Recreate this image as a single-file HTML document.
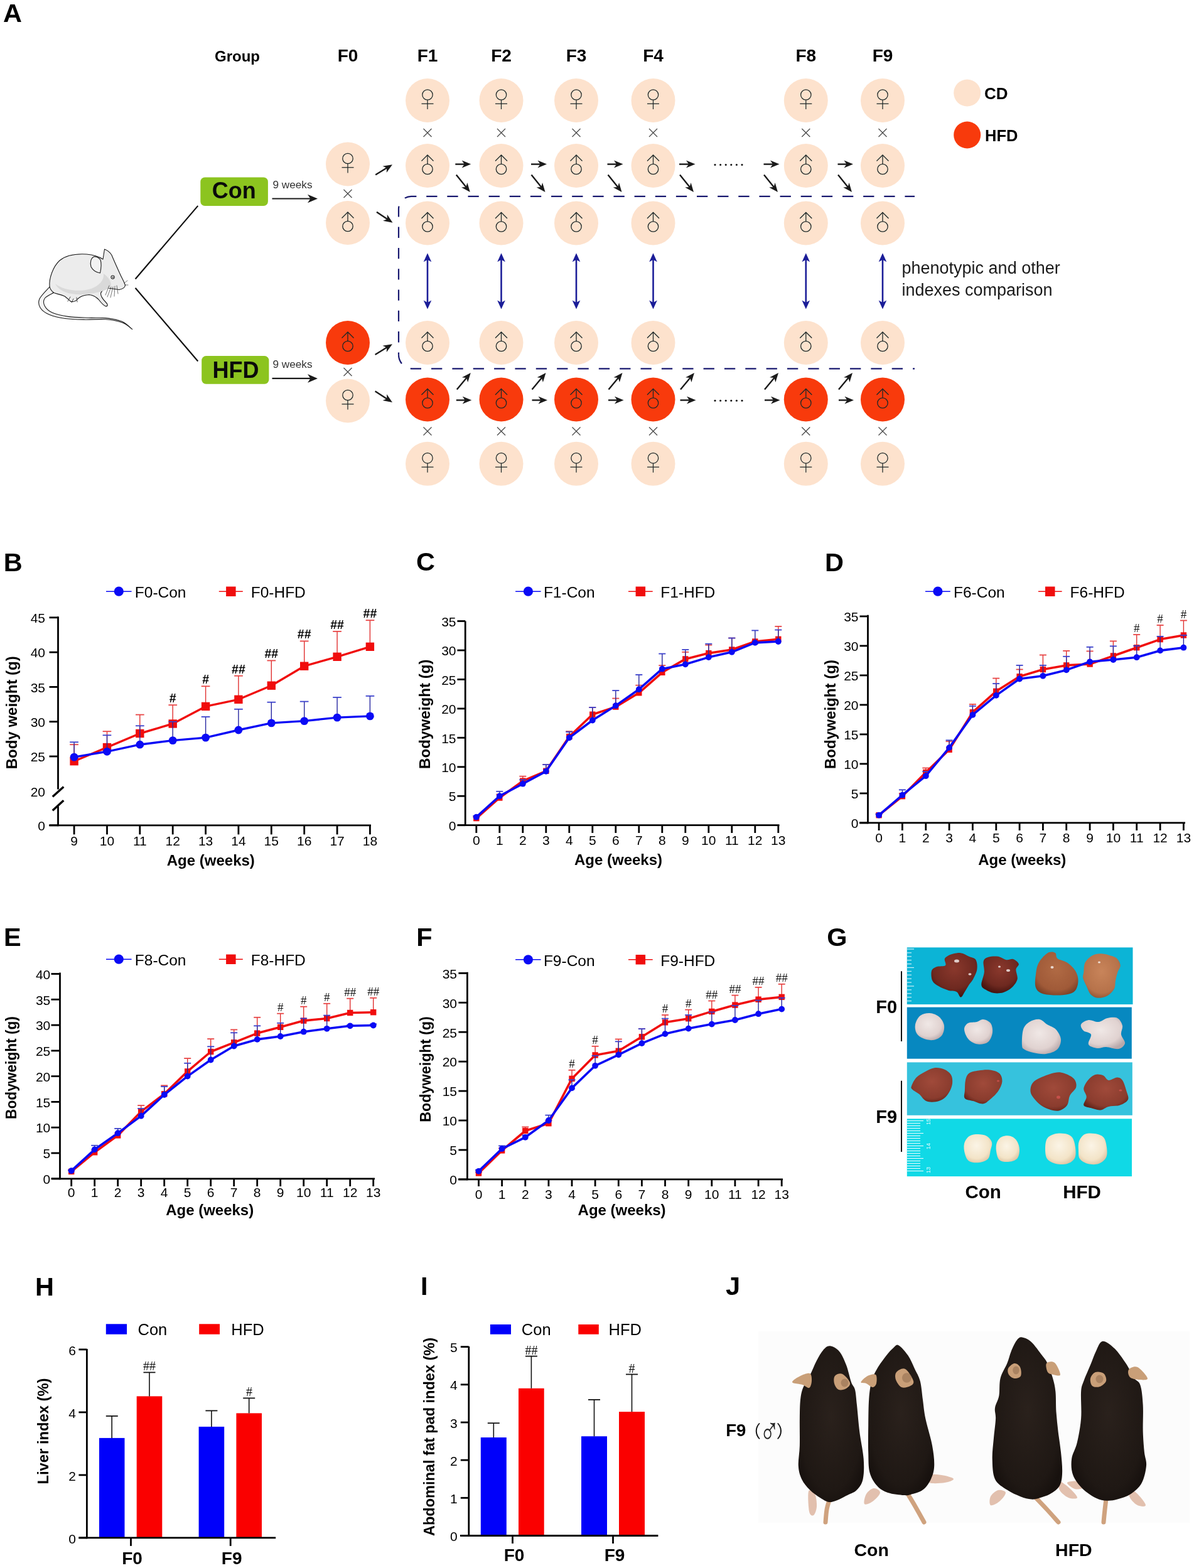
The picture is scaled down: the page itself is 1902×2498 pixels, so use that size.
<!DOCTYPE html>
<html><head><meta charset="utf-8"><title>Figure</title>
<style>
html,body{margin:0;padding:0;background:#fff;}
body{width:1902px;height:2498px;overflow:hidden;position:relative;}
svg{position:absolute;left:0;top:0;display:block;}
</style></head><body>
<svg width="1902" height="2498" viewBox="0 0 1902 2498">
<rect x="0" y="0" width="1902" height="2498" fill="#fff"/>
<text x="4.9" y="35.0" font-size="41.5" font-weight="bold" text-anchor="start" fill="#000" font-family="'Liberation Sans', Arial, sans-serif" >A</text>
<text x="342.0" y="98.0" font-size="24" font-weight="bold" text-anchor="start" fill="#000" font-family="'Liberation Sans', Arial, sans-serif" >Group</text>
<text x="554.0" y="98.0" font-size="28" font-weight="bold" text-anchor="middle" fill="#000" font-family="'Liberation Sans', Arial, sans-serif" >F0</text>
<text x="681.0" y="98.0" font-size="28" font-weight="bold" text-anchor="middle" fill="#000" font-family="'Liberation Sans', Arial, sans-serif" >F1</text>
<text x="798.5" y="98.0" font-size="28" font-weight="bold" text-anchor="middle" fill="#000" font-family="'Liberation Sans', Arial, sans-serif" >F2</text>
<text x="918.0" y="98.0" font-size="28" font-weight="bold" text-anchor="middle" fill="#000" font-family="'Liberation Sans', Arial, sans-serif" >F3</text>
<text x="1040.5" y="98.0" font-size="28" font-weight="bold" text-anchor="middle" fill="#000" font-family="'Liberation Sans', Arial, sans-serif" >F4</text>
<text x="1283.8" y="98.0" font-size="28" font-weight="bold" text-anchor="middle" fill="#000" font-family="'Liberation Sans', Arial, sans-serif" >F8</text>
<text x="1406.0" y="98.0" font-size="28" font-weight="bold" text-anchor="middle" fill="#000" font-family="'Liberation Sans', Arial, sans-serif" >F9</text>
<circle cx="681.0" cy="160.0" r="35" fill="#fde2cd"/>
<g fill="none" stroke="#1c2828" stroke-width="1.25"><circle cx="681.0" cy="151.0" r="8.2"/><line x1="681.0" y1="159.2" x2="681.0" y2="174.0"/><line x1="671.5" y1="165.3" x2="690.5" y2="165.3"/></g>
<g stroke="#4a4a4a" stroke-width="1.3"><line x1="674.5" y1="205.0" x2="687.5" y2="218.0"/><line x1="674.5" y1="218.0" x2="687.5" y2="205.0"/></g>
<circle cx="681.0" cy="264.0" r="35" fill="#fde2cd"/>
<g fill="none" stroke="#1c2828" stroke-width="1.3"><circle cx="681.0" cy="269.5" r="8.2"/><line x1="681.0" y1="261.3" x2="681.0" y2="247.0"/><polyline points="671.5,256.5 681.0,247.0 690.5,256.5"/></g>
<circle cx="681.0" cy="355.5" r="35" fill="#fde2cd"/>
<g fill="none" stroke="#1c2828" stroke-width="1.3"><circle cx="681.0" cy="361.0" r="8.2"/><line x1="681.0" y1="352.8" x2="681.0" y2="338.5"/><polyline points="671.5,348.0 681.0,338.5 690.5,348.0"/></g>
<circle cx="681.0" cy="546.0" r="35" fill="#fde2cd"/>
<g fill="none" stroke="#1c2828" stroke-width="1.3"><circle cx="681.0" cy="551.5" r="8.2"/><line x1="681.0" y1="543.3" x2="681.0" y2="529.0"/><polyline points="671.5,538.5 681.0,529.0 690.5,538.5"/></g>
<circle cx="681.0" cy="636.5" r="35" fill="#f83a0c"/>
<g fill="none" stroke="#1c2828" stroke-width="1.3"><circle cx="681.0" cy="642.0" r="8.2"/><line x1="681.0" y1="633.8" x2="681.0" y2="619.5"/><polyline points="671.5,629.0 681.0,619.5 690.5,629.0"/></g>
<g stroke="#4a4a4a" stroke-width="1.3"><line x1="674.5" y1="680.5" x2="687.5" y2="693.5"/><line x1="674.5" y1="693.5" x2="687.5" y2="680.5"/></g>
<circle cx="681.0" cy="738.8" r="35" fill="#fde2cd"/>
<g fill="none" stroke="#1c2828" stroke-width="1.25"><circle cx="681.0" cy="729.8" r="8.2"/><line x1="681.0" y1="738.0" x2="681.0" y2="752.8"/><line x1="671.5" y1="744.1" x2="690.5" y2="744.1"/></g>
<circle cx="798.5" cy="160.0" r="35" fill="#fde2cd"/>
<g fill="none" stroke="#1c2828" stroke-width="1.25"><circle cx="798.5" cy="151.0" r="8.2"/><line x1="798.5" y1="159.2" x2="798.5" y2="174.0"/><line x1="789.0" y1="165.3" x2="808.0" y2="165.3"/></g>
<g stroke="#4a4a4a" stroke-width="1.3"><line x1="792.0" y1="205.0" x2="805.0" y2="218.0"/><line x1="792.0" y1="218.0" x2="805.0" y2="205.0"/></g>
<circle cx="798.5" cy="264.0" r="35" fill="#fde2cd"/>
<g fill="none" stroke="#1c2828" stroke-width="1.3"><circle cx="798.5" cy="269.5" r="8.2"/><line x1="798.5" y1="261.3" x2="798.5" y2="247.0"/><polyline points="789.0,256.5 798.5,247.0 808.0,256.5"/></g>
<circle cx="798.5" cy="355.5" r="35" fill="#fde2cd"/>
<g fill="none" stroke="#1c2828" stroke-width="1.3"><circle cx="798.5" cy="361.0" r="8.2"/><line x1="798.5" y1="352.8" x2="798.5" y2="338.5"/><polyline points="789.0,348.0 798.5,338.5 808.0,348.0"/></g>
<circle cx="798.5" cy="546.0" r="35" fill="#fde2cd"/>
<g fill="none" stroke="#1c2828" stroke-width="1.3"><circle cx="798.5" cy="551.5" r="8.2"/><line x1="798.5" y1="543.3" x2="798.5" y2="529.0"/><polyline points="789.0,538.5 798.5,529.0 808.0,538.5"/></g>
<circle cx="798.5" cy="636.5" r="35" fill="#f83a0c"/>
<g fill="none" stroke="#1c2828" stroke-width="1.3"><circle cx="798.5" cy="642.0" r="8.2"/><line x1="798.5" y1="633.8" x2="798.5" y2="619.5"/><polyline points="789.0,629.0 798.5,619.5 808.0,629.0"/></g>
<g stroke="#4a4a4a" stroke-width="1.3"><line x1="792.0" y1="680.5" x2="805.0" y2="693.5"/><line x1="792.0" y1="693.5" x2="805.0" y2="680.5"/></g>
<circle cx="798.5" cy="738.8" r="35" fill="#fde2cd"/>
<g fill="none" stroke="#1c2828" stroke-width="1.25"><circle cx="798.5" cy="729.8" r="8.2"/><line x1="798.5" y1="738.0" x2="798.5" y2="752.8"/><line x1="789.0" y1="744.1" x2="808.0" y2="744.1"/></g>
<circle cx="918.0" cy="160.0" r="35" fill="#fde2cd"/>
<g fill="none" stroke="#1c2828" stroke-width="1.25"><circle cx="918.0" cy="151.0" r="8.2"/><line x1="918.0" y1="159.2" x2="918.0" y2="174.0"/><line x1="908.5" y1="165.3" x2="927.5" y2="165.3"/></g>
<g stroke="#4a4a4a" stroke-width="1.3"><line x1="911.5" y1="205.0" x2="924.5" y2="218.0"/><line x1="911.5" y1="218.0" x2="924.5" y2="205.0"/></g>
<circle cx="918.0" cy="264.0" r="35" fill="#fde2cd"/>
<g fill="none" stroke="#1c2828" stroke-width="1.3"><circle cx="918.0" cy="269.5" r="8.2"/><line x1="918.0" y1="261.3" x2="918.0" y2="247.0"/><polyline points="908.5,256.5 918.0,247.0 927.5,256.5"/></g>
<circle cx="918.0" cy="355.5" r="35" fill="#fde2cd"/>
<g fill="none" stroke="#1c2828" stroke-width="1.3"><circle cx="918.0" cy="361.0" r="8.2"/><line x1="918.0" y1="352.8" x2="918.0" y2="338.5"/><polyline points="908.5,348.0 918.0,338.5 927.5,348.0"/></g>
<circle cx="918.0" cy="546.0" r="35" fill="#fde2cd"/>
<g fill="none" stroke="#1c2828" stroke-width="1.3"><circle cx="918.0" cy="551.5" r="8.2"/><line x1="918.0" y1="543.3" x2="918.0" y2="529.0"/><polyline points="908.5,538.5 918.0,529.0 927.5,538.5"/></g>
<circle cx="918.0" cy="636.5" r="35" fill="#f83a0c"/>
<g fill="none" stroke="#1c2828" stroke-width="1.3"><circle cx="918.0" cy="642.0" r="8.2"/><line x1="918.0" y1="633.8" x2="918.0" y2="619.5"/><polyline points="908.5,629.0 918.0,619.5 927.5,629.0"/></g>
<g stroke="#4a4a4a" stroke-width="1.3"><line x1="911.5" y1="680.5" x2="924.5" y2="693.5"/><line x1="911.5" y1="693.5" x2="924.5" y2="680.5"/></g>
<circle cx="918.0" cy="738.8" r="35" fill="#fde2cd"/>
<g fill="none" stroke="#1c2828" stroke-width="1.25"><circle cx="918.0" cy="729.8" r="8.2"/><line x1="918.0" y1="738.0" x2="918.0" y2="752.8"/><line x1="908.5" y1="744.1" x2="927.5" y2="744.1"/></g>
<circle cx="1040.5" cy="160.0" r="35" fill="#fde2cd"/>
<g fill="none" stroke="#1c2828" stroke-width="1.25"><circle cx="1040.5" cy="151.0" r="8.2"/><line x1="1040.5" y1="159.2" x2="1040.5" y2="174.0"/><line x1="1031.0" y1="165.3" x2="1050.0" y2="165.3"/></g>
<g stroke="#4a4a4a" stroke-width="1.3"><line x1="1034.0" y1="205.0" x2="1047.0" y2="218.0"/><line x1="1034.0" y1="218.0" x2="1047.0" y2="205.0"/></g>
<circle cx="1040.5" cy="264.0" r="35" fill="#fde2cd"/>
<g fill="none" stroke="#1c2828" stroke-width="1.3"><circle cx="1040.5" cy="269.5" r="8.2"/><line x1="1040.5" y1="261.3" x2="1040.5" y2="247.0"/><polyline points="1031.0,256.5 1040.5,247.0 1050.0,256.5"/></g>
<circle cx="1040.5" cy="355.5" r="35" fill="#fde2cd"/>
<g fill="none" stroke="#1c2828" stroke-width="1.3"><circle cx="1040.5" cy="361.0" r="8.2"/><line x1="1040.5" y1="352.8" x2="1040.5" y2="338.5"/><polyline points="1031.0,348.0 1040.5,338.5 1050.0,348.0"/></g>
<circle cx="1040.5" cy="546.0" r="35" fill="#fde2cd"/>
<g fill="none" stroke="#1c2828" stroke-width="1.3"><circle cx="1040.5" cy="551.5" r="8.2"/><line x1="1040.5" y1="543.3" x2="1040.5" y2="529.0"/><polyline points="1031.0,538.5 1040.5,529.0 1050.0,538.5"/></g>
<circle cx="1040.5" cy="636.5" r="35" fill="#f83a0c"/>
<g fill="none" stroke="#1c2828" stroke-width="1.3"><circle cx="1040.5" cy="642.0" r="8.2"/><line x1="1040.5" y1="633.8" x2="1040.5" y2="619.5"/><polyline points="1031.0,629.0 1040.5,619.5 1050.0,629.0"/></g>
<g stroke="#4a4a4a" stroke-width="1.3"><line x1="1034.0" y1="680.5" x2="1047.0" y2="693.5"/><line x1="1034.0" y1="693.5" x2="1047.0" y2="680.5"/></g>
<circle cx="1040.5" cy="738.8" r="35" fill="#fde2cd"/>
<g fill="none" stroke="#1c2828" stroke-width="1.25"><circle cx="1040.5" cy="729.8" r="8.2"/><line x1="1040.5" y1="738.0" x2="1040.5" y2="752.8"/><line x1="1031.0" y1="744.1" x2="1050.0" y2="744.1"/></g>
<circle cx="1283.8" cy="160.0" r="35" fill="#fde2cd"/>
<g fill="none" stroke="#1c2828" stroke-width="1.25"><circle cx="1283.8" cy="151.0" r="8.2"/><line x1="1283.8" y1="159.2" x2="1283.8" y2="174.0"/><line x1="1274.3" y1="165.3" x2="1293.3" y2="165.3"/></g>
<g stroke="#4a4a4a" stroke-width="1.3"><line x1="1277.3" y1="205.0" x2="1290.3" y2="218.0"/><line x1="1277.3" y1="218.0" x2="1290.3" y2="205.0"/></g>
<circle cx="1283.8" cy="264.0" r="35" fill="#fde2cd"/>
<g fill="none" stroke="#1c2828" stroke-width="1.3"><circle cx="1283.8" cy="269.5" r="8.2"/><line x1="1283.8" y1="261.3" x2="1283.8" y2="247.0"/><polyline points="1274.3,256.5 1283.8,247.0 1293.3,256.5"/></g>
<circle cx="1283.8" cy="355.5" r="35" fill="#fde2cd"/>
<g fill="none" stroke="#1c2828" stroke-width="1.3"><circle cx="1283.8" cy="361.0" r="8.2"/><line x1="1283.8" y1="352.8" x2="1283.8" y2="338.5"/><polyline points="1274.3,348.0 1283.8,338.5 1293.3,348.0"/></g>
<circle cx="1283.8" cy="546.0" r="35" fill="#fde2cd"/>
<g fill="none" stroke="#1c2828" stroke-width="1.3"><circle cx="1283.8" cy="551.5" r="8.2"/><line x1="1283.8" y1="543.3" x2="1283.8" y2="529.0"/><polyline points="1274.3,538.5 1283.8,529.0 1293.3,538.5"/></g>
<circle cx="1283.8" cy="636.5" r="35" fill="#f83a0c"/>
<g fill="none" stroke="#1c2828" stroke-width="1.3"><circle cx="1283.8" cy="642.0" r="8.2"/><line x1="1283.8" y1="633.8" x2="1283.8" y2="619.5"/><polyline points="1274.3,629.0 1283.8,619.5 1293.3,629.0"/></g>
<g stroke="#4a4a4a" stroke-width="1.3"><line x1="1277.3" y1="680.5" x2="1290.3" y2="693.5"/><line x1="1277.3" y1="693.5" x2="1290.3" y2="680.5"/></g>
<circle cx="1283.8" cy="738.8" r="35" fill="#fde2cd"/>
<g fill="none" stroke="#1c2828" stroke-width="1.25"><circle cx="1283.8" cy="729.8" r="8.2"/><line x1="1283.8" y1="738.0" x2="1283.8" y2="752.8"/><line x1="1274.3" y1="744.1" x2="1293.3" y2="744.1"/></g>
<circle cx="1406.0" cy="160.0" r="35" fill="#fde2cd"/>
<g fill="none" stroke="#1c2828" stroke-width="1.25"><circle cx="1406.0" cy="151.0" r="8.2"/><line x1="1406.0" y1="159.2" x2="1406.0" y2="174.0"/><line x1="1396.5" y1="165.3" x2="1415.5" y2="165.3"/></g>
<g stroke="#4a4a4a" stroke-width="1.3"><line x1="1399.5" y1="205.0" x2="1412.5" y2="218.0"/><line x1="1399.5" y1="218.0" x2="1412.5" y2="205.0"/></g>
<circle cx="1406.0" cy="264.0" r="35" fill="#fde2cd"/>
<g fill="none" stroke="#1c2828" stroke-width="1.3"><circle cx="1406.0" cy="269.5" r="8.2"/><line x1="1406.0" y1="261.3" x2="1406.0" y2="247.0"/><polyline points="1396.5,256.5 1406.0,247.0 1415.5,256.5"/></g>
<circle cx="1406.0" cy="355.5" r="35" fill="#fde2cd"/>
<g fill="none" stroke="#1c2828" stroke-width="1.3"><circle cx="1406.0" cy="361.0" r="8.2"/><line x1="1406.0" y1="352.8" x2="1406.0" y2="338.5"/><polyline points="1396.5,348.0 1406.0,338.5 1415.5,348.0"/></g>
<circle cx="1406.0" cy="546.0" r="35" fill="#fde2cd"/>
<g fill="none" stroke="#1c2828" stroke-width="1.3"><circle cx="1406.0" cy="551.5" r="8.2"/><line x1="1406.0" y1="543.3" x2="1406.0" y2="529.0"/><polyline points="1396.5,538.5 1406.0,529.0 1415.5,538.5"/></g>
<circle cx="1406.0" cy="636.5" r="35" fill="#f83a0c"/>
<g fill="none" stroke="#1c2828" stroke-width="1.3"><circle cx="1406.0" cy="642.0" r="8.2"/><line x1="1406.0" y1="633.8" x2="1406.0" y2="619.5"/><polyline points="1396.5,629.0 1406.0,619.5 1415.5,629.0"/></g>
<g stroke="#4a4a4a" stroke-width="1.3"><line x1="1399.5" y1="680.5" x2="1412.5" y2="693.5"/><line x1="1399.5" y1="693.5" x2="1412.5" y2="680.5"/></g>
<circle cx="1406.0" cy="738.8" r="35" fill="#fde2cd"/>
<g fill="none" stroke="#1c2828" stroke-width="1.25"><circle cx="1406.0" cy="729.8" r="8.2"/><line x1="1406.0" y1="738.0" x2="1406.0" y2="752.8"/><line x1="1396.5" y1="744.1" x2="1415.5" y2="744.1"/></g>
<circle cx="554.0" cy="261.5" r="35" fill="#fde2cd"/>
<g fill="none" stroke="#1c2828" stroke-width="1.25"><circle cx="554.0" cy="252.5" r="8.2"/><line x1="554.0" y1="260.7" x2="554.0" y2="275.5"/><line x1="544.5" y1="266.8" x2="563.5" y2="266.8"/></g>
<g stroke="#4a4a4a" stroke-width="1.3"><line x1="547.5" y1="302.0" x2="560.5" y2="315.0"/><line x1="547.5" y1="315.0" x2="560.5" y2="302.0"/></g>
<circle cx="554.0" cy="355.0" r="35" fill="#fde2cd"/>
<g fill="none" stroke="#1c2828" stroke-width="1.3"><circle cx="554.0" cy="360.5" r="8.2"/><line x1="554.0" y1="352.3" x2="554.0" y2="338.0"/><polyline points="544.5,347.5 554.0,338.0 563.5,347.5"/></g>
<circle cx="554.0" cy="546.0" r="35" fill="#f83a0c"/>
<g fill="none" stroke="#1c2828" stroke-width="1.3"><circle cx="554.0" cy="551.5" r="8.2"/><line x1="554.0" y1="543.3" x2="554.0" y2="529.0"/><polyline points="544.5,538.5 554.0,529.0 563.5,538.5"/></g>
<g stroke="#4a4a4a" stroke-width="1.3"><line x1="547.5" y1="586.0" x2="560.5" y2="599.0"/><line x1="547.5" y1="599.0" x2="560.5" y2="586.0"/></g>
<circle cx="554.0" cy="638.5" r="35" fill="#fde2cd"/>
<g fill="none" stroke="#1c2828" stroke-width="1.25"><circle cx="554.0" cy="629.5" r="8.2"/><line x1="554.0" y1="637.7" x2="554.0" y2="652.5"/><line x1="544.5" y1="643.8" x2="563.5" y2="643.8"/></g>
<circle cx="1540.7" cy="148.0" r="21.5" fill="#fde2cd"/>
<circle cx="1540.7" cy="215.0" r="21.5" fill="#f83a0c"/>
<text x="1568.0" y="157.7" font-size="26" font-weight="bold" text-anchor="start" fill="#000" font-family="'Liberation Sans', Arial, sans-serif" >CD</text>
<text x="1569.0" y="224.5" font-size="25.5" font-weight="bold" text-anchor="start" fill="#000" font-family="'Liberation Sans', Arial, sans-serif" >HFD</text>
<path d="M1457,312.9 H655" fill="none" stroke="#18186f" stroke-width="2.2" stroke-dasharray="17.3 15.84" stroke-dashoffset="1.72"/>
<path d="M655,312.9 A20,20 0 0 0 635,332.9 V565.3" fill="none" stroke="#18186f" stroke-width="2.2" stroke-dasharray="17.3 16" stroke-dashoffset="6.68"/>
<path d="M635,565.3 A22,22 0 0 0 657,587.3 H1457" fill="none" stroke="#18186f" stroke-width="2.2" stroke-dasharray="17.3 16.05" stroke-dashoffset="2.34"/>
<line x1="681" y1="413.1" x2="681" y2="482.7" stroke="#1b1d98" stroke-width="2.6"/>
<polygon points="681,403.3 674.7,417.3 681,413.8 687.3,417.3" fill="#1b1d98"/>
<polygon points="681,492.5 674.7,478.5 681,482.0 687.3,478.5" fill="#1b1d98"/>
<line x1="798.5" y1="413.1" x2="798.5" y2="482.7" stroke="#1b1d98" stroke-width="2.6"/>
<polygon points="798.5,403.3 792.2,417.3 798.5,413.8 804.8,417.3" fill="#1b1d98"/>
<polygon points="798.5,492.5 792.2,478.5 798.5,482.0 804.8,478.5" fill="#1b1d98"/>
<line x1="918" y1="413.1" x2="918" y2="482.7" stroke="#1b1d98" stroke-width="2.6"/>
<polygon points="918,403.3 911.7,417.3 918,413.8 924.3,417.3" fill="#1b1d98"/>
<polygon points="918,492.5 911.7,478.5 918,482.0 924.3,478.5" fill="#1b1d98"/>
<line x1="1040.5" y1="413.1" x2="1040.5" y2="482.7" stroke="#1b1d98" stroke-width="2.6"/>
<polygon points="1040.5,403.3 1034.2,417.3 1040.5,413.8 1046.8,417.3" fill="#1b1d98"/>
<polygon points="1040.5,492.5 1034.2,478.5 1040.5,482.0 1046.8,478.5" fill="#1b1d98"/>
<line x1="1283.8" y1="413.1" x2="1283.8" y2="482.7" stroke="#1b1d98" stroke-width="2.6"/>
<polygon points="1283.8,403.3 1277.5,417.3 1283.8,413.8 1290.1,417.3" fill="#1b1d98"/>
<polygon points="1283.8,492.5 1277.5,478.5 1283.8,482.0 1290.1,478.5" fill="#1b1d98"/>
<line x1="1406" y1="413.1" x2="1406" y2="482.7" stroke="#1b1d98" stroke-width="2.6"/>
<polygon points="1406,403.3 1399.7,417.3 1406,413.8 1412.3,417.3" fill="#1b1d98"/>
<polygon points="1406,492.5 1399.7,478.5 1406,482.0 1412.3,478.5" fill="#1b1d98"/>
<line x1="598.2" y1="278.6" x2="616.9" y2="267.1" stroke="#1a1a1a" stroke-width="2.4"/>
<polygon points="625.0,262.2 615.8,274.9 616.1,267.6 609.5,264.7" fill="#1a1a1a"/>
<line x1="600.0" y1="337.8" x2="617.6" y2="349.6" stroke="#1a1a1a" stroke-width="2.4"/>
<polygon points="625.5,354.8 610.1,351.7 616.8,349.0 616.8,341.8" fill="#1a1a1a"/>
<line x1="597.6" y1="565.0" x2="617.0" y2="553.1" stroke="#1a1a1a" stroke-width="2.4"/>
<polygon points="625.0,548.2 615.8,560.9 616.1,553.7 609.5,550.7" fill="#1a1a1a"/>
<line x1="597.6" y1="623.2" x2="617.1" y2="635.9" stroke="#1a1a1a" stroke-width="2.4"/>
<polygon points="625.0,641.0 609.6,638.1 616.2,635.3 616.1,628.1" fill="#1a1a1a"/>
<line x1="725.3" y1="261.6" x2="740.8" y2="261.6" stroke="#1a1a1a" stroke-width="2.4"/>
<polygon points="750.2,261.6 735.7,267.6 739.8,261.6 735.7,255.6" fill="#1a1a1a"/>
<line x1="726.8" y1="637.5" x2="741.8" y2="637.5" stroke="#1a1a1a" stroke-width="2.4"/>
<polygon points="751.2,637.5 736.7,643.5 740.8,637.5 736.7,631.5" fill="#1a1a1a"/>
<line x1="846.0" y1="261.6" x2="861.6" y2="261.6" stroke="#1a1a1a" stroke-width="2.4"/>
<polygon points="871.0,261.6 856.5,267.6 860.6,261.6 856.5,255.6" fill="#1a1a1a"/>
<line x1="847.5" y1="637.5" x2="862.6" y2="637.5" stroke="#1a1a1a" stroke-width="2.4"/>
<polygon points="872.0,637.5 857.5,643.5 861.6,637.5 857.5,631.5" fill="#1a1a1a"/>
<line x1="967.5" y1="261.6" x2="983.1" y2="261.6" stroke="#1a1a1a" stroke-width="2.4"/>
<polygon points="992.5,261.6 978.0,267.6 982.1,261.6 978.0,255.6" fill="#1a1a1a"/>
<line x1="969.0" y1="637.5" x2="984.1" y2="637.5" stroke="#1a1a1a" stroke-width="2.4"/>
<polygon points="993.5,637.5 979.0,643.5 983.1,637.5 979.0,631.5" fill="#1a1a1a"/>
<line x1="1082.0" y1="261.6" x2="1098.1" y2="261.6" stroke="#1a1a1a" stroke-width="2.4"/>
<polygon points="1107.5,261.6 1093.0,267.6 1097.1,261.6 1093.0,255.6" fill="#1a1a1a"/>
<line x1="1083.5" y1="637.5" x2="1099.1" y2="637.5" stroke="#1a1a1a" stroke-width="2.4"/>
<polygon points="1108.5,637.5 1094.0,643.5 1098.1,637.5 1094.0,631.5" fill="#1a1a1a"/>
<line x1="1216.5" y1="261.6" x2="1232.1" y2="261.6" stroke="#1a1a1a" stroke-width="2.4"/>
<polygon points="1241.5,261.6 1227.0,267.6 1231.1,261.6 1227.0,255.6" fill="#1a1a1a"/>
<line x1="1218.0" y1="637.5" x2="1233.1" y2="637.5" stroke="#1a1a1a" stroke-width="2.4"/>
<polygon points="1242.5,637.5 1228.0,643.5 1232.1,637.5 1228.0,631.5" fill="#1a1a1a"/>
<line x1="1334.5" y1="261.6" x2="1349.6" y2="261.6" stroke="#1a1a1a" stroke-width="2.4"/>
<polygon points="1359.0,261.6 1344.5,267.6 1348.6,261.6 1344.5,255.6" fill="#1a1a1a"/>
<line x1="1336.0" y1="637.5" x2="1350.6" y2="637.5" stroke="#1a1a1a" stroke-width="2.4"/>
<polygon points="1360.0,637.5 1345.5,643.5 1349.6,637.5 1345.5,631.5" fill="#1a1a1a"/>
<line x1="726.8" y1="278.6" x2="742.9" y2="298.6" stroke="#1a1a1a" stroke-width="2.4"/>
<polygon points="748.8,306.0 735.0,298.5 742.3,297.9 744.4,290.9" fill="#1a1a1a"/>
<line x1="727.8" y1="620.6" x2="743.8" y2="601.3" stroke="#1a1a1a" stroke-width="2.4"/>
<polygon points="749.8,594.0 745.2,609.0 743.1,602.0 735.9,601.3" fill="#1a1a1a"/>
<line x1="846.5" y1="278.6" x2="862.6" y2="298.6" stroke="#1a1a1a" stroke-width="2.4"/>
<polygon points="868.5,306.0 854.7,298.5 862.0,297.9 864.1,290.9" fill="#1a1a1a"/>
<line x1="847.5" y1="620.6" x2="863.5" y2="601.3" stroke="#1a1a1a" stroke-width="2.4"/>
<polygon points="869.5,594.0 864.9,609.0 862.8,602.0 855.6,601.3" fill="#1a1a1a"/>
<line x1="968.5" y1="278.6" x2="984.6" y2="298.6" stroke="#1a1a1a" stroke-width="2.4"/>
<polygon points="990.5,306.0 976.7,298.5 984.0,297.9 986.1,290.9" fill="#1a1a1a"/>
<line x1="969.5" y1="620.6" x2="985.5" y2="601.3" stroke="#1a1a1a" stroke-width="2.4"/>
<polygon points="991.5,594.0 986.9,609.0 984.8,602.0 977.6,601.3" fill="#1a1a1a"/>
<line x1="1083.0" y1="278.6" x2="1099.1" y2="298.6" stroke="#1a1a1a" stroke-width="2.4"/>
<polygon points="1105.0,306.0 1091.2,298.5 1098.5,297.9 1100.6,290.9" fill="#1a1a1a"/>
<line x1="1084.0" y1="620.6" x2="1100.0" y2="601.3" stroke="#1a1a1a" stroke-width="2.4"/>
<polygon points="1106.0,594.0 1101.4,609.0 1099.3,602.0 1092.1,601.3" fill="#1a1a1a"/>
<line x1="1217.0" y1="278.6" x2="1233.1" y2="298.6" stroke="#1a1a1a" stroke-width="2.4"/>
<polygon points="1239.0,306.0 1225.2,298.5 1232.5,297.9 1234.6,290.9" fill="#1a1a1a"/>
<line x1="1218.0" y1="620.6" x2="1234.0" y2="601.3" stroke="#1a1a1a" stroke-width="2.4"/>
<polygon points="1240.0,594.0 1235.4,609.0 1233.3,602.0 1226.1,601.3" fill="#1a1a1a"/>
<line x1="1335.0" y1="278.6" x2="1351.1" y2="298.6" stroke="#1a1a1a" stroke-width="2.4"/>
<polygon points="1357.0,306.0 1343.2,298.5 1350.5,297.9 1352.6,290.9" fill="#1a1a1a"/>
<line x1="1336.0" y1="620.6" x2="1352.0" y2="601.3" stroke="#1a1a1a" stroke-width="2.4"/>
<polygon points="1358.0,594.0 1353.4,609.0 1351.3,602.0 1344.1,601.3" fill="#1a1a1a"/>
<circle cx="1139.0" cy="262.5" r="1.5" fill="#111"/>
<circle cx="1147.6" cy="262.5" r="1.5" fill="#111"/>
<circle cx="1156.2" cy="262.5" r="1.5" fill="#111"/>
<circle cx="1164.8" cy="262.5" r="1.5" fill="#111"/>
<circle cx="1173.4" cy="262.5" r="1.5" fill="#111"/>
<circle cx="1182.0" cy="262.5" r="1.5" fill="#111"/>
<circle cx="1139.0" cy="638.3" r="1.5" fill="#111"/>
<circle cx="1147.6" cy="638.3" r="1.5" fill="#111"/>
<circle cx="1156.2" cy="638.3" r="1.5" fill="#111"/>
<circle cx="1164.8" cy="638.3" r="1.5" fill="#111"/>
<circle cx="1173.4" cy="638.3" r="1.5" fill="#111"/>
<circle cx="1182.0" cy="638.3" r="1.5" fill="#111"/>
<rect x="319.3" y="282.5" width="107.6" height="45.5" rx="7" fill="#8cc41f"/>
<rect x="321.2" y="567.1" width="107.2" height="44.7" rx="7" fill="#8cc41f"/>
<text x="372.7" y="316.4" font-size="36" font-weight="bold" text-anchor="middle" fill="#0b0b0b" font-family="'Liberation Sans', Arial, sans-serif" >Con</text>
<text x="375.6" y="602.2" font-size="36" font-weight="bold" text-anchor="middle" fill="#0b0b0b" font-family="'Liberation Sans', Arial, sans-serif" >HFD</text>
<text x="434.5" y="300.2" font-size="17.2" font-weight="normal" text-anchor="start" fill="#333" font-family="'Liberation Sans', Arial, sans-serif" >9 weeks</text>
<text x="434.5" y="586.2" font-size="17.2" font-weight="normal" text-anchor="start" fill="#333" font-family="'Liberation Sans', Arial, sans-serif" >9 weeks</text>
<line x1="433.5" y1="316.5" x2="495.5" y2="316.5" stroke="#1a1a1a" stroke-width="2.2"/>
<polygon points="506.0,316.5 490.0,323.3 494.5,316.5 490.0,309.7" fill="#1a1a1a"/>
<line x1="433.5" y1="602.9" x2="495.5" y2="602.9" stroke="#1a1a1a" stroke-width="2.2"/>
<polygon points="506.0,602.9 490.0,609.7 494.5,602.9 490.0,596.1" fill="#1a1a1a"/>
<line x1="215.6" y1="444.5" x2="315.3" y2="327.9" stroke="#111" stroke-width="2.2" />
<line x1="215.6" y1="458.8" x2="315.3" y2="575.5" stroke="#111" stroke-width="2.2" />
<text x="1436.5" y="436.0" font-size="27" font-weight="normal" text-anchor="start" fill="#1a1a1a" font-family="'Liberation Sans', Arial, sans-serif" >phenotypic and other</text>
<text x="1436.5" y="471.0" font-size="27" font-weight="normal" text-anchor="start" fill="#1a1a1a" font-family="'Liberation Sans', Arial, sans-serif" >indexes comparison</text>
<g stroke="#1a1a1a" stroke-width="1.1" stroke-linejoin="round" stroke-linecap="round">
<path d="M79,457 C76.3,460.2 65.5,470.5 63,476 C60.5,481.5 61.5,485.8 64,490 C66.5,494.2 71.3,498.1 78,501 C84.7,503.9 94.3,506.1 104,507.5 C113.7,508.9 125.3,509.0 136,509.2 C146.7,509.4 158.2,508.0 168,508.8 C177.8,509.6 187.9,511.4 195,514 C202.1,516.6 208.1,522.8 210.7,524.6  L210.7,524.6 C208.0,522.5 201.7,515.3 194.6,512.3 C187.5,509.3 176.9,507.6 168,506.6 C159.1,505.6 150.8,506.7 141,506.3 C131.2,505.9 118.7,505.8 109,504.4 C99.3,503.0 89.3,500.9 83,498 C76.7,495.1 72.9,490.8 71,487 C69.1,483.2 69.0,478.5 71.5,475 C74.0,471.5 83.6,467.5 86,466 Z" fill="#f3f3f3"/>
<path d="M79,456 C78,444 84,425 95,415 C106,406 122,404 138,405 C150,406 158,409 164,413 L166.5,397 C172,399 176.5,404 178,406.5 C181,414 186,425 191,436 C194,443 198,449 199.5,454.5 C199,458 195,460.5 190,461.5 C184,461 178,459.5 172,459 C166,460 162,463 160.5,467 C160,472 165,478 169,482 C172,485 172,488 168.5,488 C164,486 160,481 157,477 C153,473 148,470 142,469.5 C135,470 128,472 124,476 C121,480 117,481 113,480.5 C110,478 107,475 103,472 C96,469 89,468 86,466.5 C81,463 79.5,460 79,456 Z" fill="#ececec"/>
<path d="M88,452 C100,462 125,466 145,460 C158,455 166,447 165,436 C176,444 180,454 174,459 C164,465 143,470 122,469 C104,468 92,461 88,452 Z" fill="#d9d9d9" stroke="none"/>
<path d="M149.5,409 C145,411 143,418 145,425 C148,431 153,434 159.5,435 C161,428 162,420 160,414 C157,410 153,408.5 149.5,409 Z" fill="#f2f2f2"/>
<circle cx="179.6" cy="441.6" r="2.6" fill="#fff"/>
<circle cx="179.8" cy="441.8" r="1" fill="#222" stroke="none"/>
<path d="M174,455 L168,470 M177,457 L171,473 M180,457 L176,474 M183,456 L182,472 M186,455 L188,468 M198,451 L203,447 M199,454 L204,454" fill="none" stroke-width="0.6"/>
<path d="M112,473 L108,480 M117,476 L114,482 M122,474 L123,481" fill="none" stroke-width="0.8"/>
</g>
<text x="5.8" y="909.5" font-size="41.5" font-weight="bold" text-anchor="start" fill="#000" font-family="'Liberation Sans', Arial, sans-serif" >B</text>
<text x="663.0" y="909.2" font-size="41.5" font-weight="bold" text-anchor="start" fill="#000" font-family="'Liberation Sans', Arial, sans-serif" >C</text>
<text x="1314.0" y="909.5" font-size="41.5" font-weight="bold" text-anchor="start" fill="#000" font-family="'Liberation Sans', Arial, sans-serif" >D</text>
<text x="6.0" y="1507.3" font-size="41.5" font-weight="bold" text-anchor="start" fill="#000" font-family="'Liberation Sans', Arial, sans-serif" >E</text>
<text x="663.3" y="1507.3" font-size="41.5" font-weight="bold" text-anchor="start" fill="#000" font-family="'Liberation Sans', Arial, sans-serif" >F</text>
<text x="1317.2" y="1506.6" font-size="41.5" font-weight="bold" text-anchor="start" fill="#000" font-family="'Liberation Sans', Arial, sans-serif" >G</text>
<line x1="92.5" y1="982.3" x2="92.5" y2="1257.5" stroke="#000" stroke-width="2.8" />
<line x1="92.5" y1="1284.5" x2="92.5" y2="1316.2" stroke="#000" stroke-width="2.8" />
<line x1="83.8" y1="1269.3" x2="101.3" y2="1253.6" stroke="#000" stroke-width="3.4" />
<line x1="83.8" y1="1291.3" x2="101.3" y2="1275.2" stroke="#000" stroke-width="3.4" />
<line x1="78.3" y1="1314.8" x2="591.0" y2="1314.8" stroke="#000" stroke-width="2.8" />
<line x1="78.5" y1="983.8" x2="92.5" y2="983.8" stroke="#000" stroke-width="2.8" />
<text x="72.0" y="992.0" font-size="21" font-weight="normal" text-anchor="end" fill="#000" font-family="'Liberation Sans', Arial, sans-serif" >45</text>
<line x1="78.5" y1="1039.1" x2="92.5" y2="1039.1" stroke="#000" stroke-width="2.8" />
<text x="72.0" y="1047.3" font-size="21" font-weight="normal" text-anchor="end" fill="#000" font-family="'Liberation Sans', Arial, sans-serif" >40</text>
<line x1="78.5" y1="1094.4" x2="92.5" y2="1094.4" stroke="#000" stroke-width="2.8" />
<text x="72.0" y="1102.6" font-size="21" font-weight="normal" text-anchor="end" fill="#000" font-family="'Liberation Sans', Arial, sans-serif" >35</text>
<line x1="78.5" y1="1149.7" x2="92.5" y2="1149.7" stroke="#000" stroke-width="2.8" />
<text x="72.0" y="1157.9" font-size="21" font-weight="normal" text-anchor="end" fill="#000" font-family="'Liberation Sans', Arial, sans-serif" >30</text>
<line x1="78.5" y1="1205.0" x2="92.5" y2="1205.0" stroke="#000" stroke-width="2.8" />
<text x="72.0" y="1213.2" font-size="21" font-weight="normal" text-anchor="end" fill="#000" font-family="'Liberation Sans', Arial, sans-serif" >25</text>
<line x1="78.5" y1="1314.8" x2="92.5" y2="1314.8" stroke="#000" stroke-width="2.8" />
<text x="72.0" y="1323.0" font-size="21" font-weight="normal" text-anchor="end" fill="#000" font-family="'Liberation Sans', Arial, sans-serif" >0</text>
<text x="72.0" y="1268.5" font-size="21" font-weight="normal" text-anchor="end" fill="#000" font-family="'Liberation Sans', Arial, sans-serif" >20</text>
<line x1="118.1" y1="1314.8" x2="118.1" y2="1329.4" stroke="#000" stroke-width="2.8" />
<text x="118.1" y="1347.3" font-size="21" font-weight="normal" text-anchor="middle" fill="#000" font-family="'Liberation Sans', Arial, sans-serif" >9</text>
<line x1="170.5" y1="1314.8" x2="170.5" y2="1329.4" stroke="#000" stroke-width="2.8" />
<text x="170.5" y="1347.3" font-size="21" font-weight="normal" text-anchor="middle" fill="#000" font-family="'Liberation Sans', Arial, sans-serif" >10</text>
<line x1="222.8" y1="1314.8" x2="222.8" y2="1329.4" stroke="#000" stroke-width="2.8" />
<text x="222.8" y="1347.3" font-size="21" font-weight="normal" text-anchor="middle" fill="#000" font-family="'Liberation Sans', Arial, sans-serif" >11</text>
<line x1="275.2" y1="1314.8" x2="275.2" y2="1329.4" stroke="#000" stroke-width="2.8" />
<text x="275.2" y="1347.3" font-size="21" font-weight="normal" text-anchor="middle" fill="#000" font-family="'Liberation Sans', Arial, sans-serif" >12</text>
<line x1="327.6" y1="1314.8" x2="327.6" y2="1329.4" stroke="#000" stroke-width="2.8" />
<text x="327.6" y="1347.3" font-size="21" font-weight="normal" text-anchor="middle" fill="#000" font-family="'Liberation Sans', Arial, sans-serif" >13</text>
<line x1="379.9" y1="1314.8" x2="379.9" y2="1329.4" stroke="#000" stroke-width="2.8" />
<text x="379.9" y="1347.3" font-size="21" font-weight="normal" text-anchor="middle" fill="#000" font-family="'Liberation Sans', Arial, sans-serif" >14</text>
<line x1="432.3" y1="1314.8" x2="432.3" y2="1329.4" stroke="#000" stroke-width="2.8" />
<text x="432.3" y="1347.3" font-size="21" font-weight="normal" text-anchor="middle" fill="#000" font-family="'Liberation Sans', Arial, sans-serif" >15</text>
<line x1="484.7" y1="1314.8" x2="484.7" y2="1329.4" stroke="#000" stroke-width="2.8" />
<text x="484.7" y="1347.3" font-size="21" font-weight="normal" text-anchor="middle" fill="#000" font-family="'Liberation Sans', Arial, sans-serif" >16</text>
<line x1="537.1" y1="1314.8" x2="537.1" y2="1329.4" stroke="#000" stroke-width="2.8" />
<text x="537.1" y="1347.3" font-size="21" font-weight="normal" text-anchor="middle" fill="#000" font-family="'Liberation Sans', Arial, sans-serif" >17</text>
<line x1="589.4" y1="1314.8" x2="589.4" y2="1329.4" stroke="#000" stroke-width="2.8" />
<text x="589.4" y="1347.3" font-size="21" font-weight="normal" text-anchor="middle" fill="#000" font-family="'Liberation Sans', Arial, sans-serif" >18</text>
<text x="335.8" y="1378.8" font-size="24" font-weight="bold" text-anchor="middle" fill="#000" font-family="'Liberation Sans', Arial, sans-serif" >Age (weeks)</text>
<text x="26.6" y="1135.3" font-size="24" font-weight="bold" text-anchor="middle" fill="#000" font-family="'Liberation Sans', Arial, sans-serif" transform="rotate(-90 26.6 1135.3)">Body weight (g)</text>
<line x1="169.0" y1="942.2" x2="209.6" y2="942.2" stroke="#0a0af5" stroke-width="1.6" />
<circle cx="189.3" cy="942.2" r="7.6" fill="#0a0af5"/>
<text x="214.8" y="952.2" font-size="24.5" font-weight="normal" text-anchor="start" fill="#000" font-family="'Liberation Sans', Arial, sans-serif" >F0-Con</text>
<line x1="348.8" y1="942.2" x2="386.8" y2="942.2" stroke="#f00d0d" stroke-width="1.6" />
<rect x="360.1" y="934.5" width="15.5" height="15.5" fill="#f00d0d"/>
<text x="399.7" y="952.2" font-size="24.5" font-weight="normal" text-anchor="start" fill="#000" font-family="'Liberation Sans', Arial, sans-serif" >F0-HFD</text>
<line x1="118.1" y1="1212.7" x2="118.1" y2="1186.2" stroke="#e03030" stroke-width="1.4" />
<line x1="111.2" y1="1186.2" x2="124.9" y2="1186.2" stroke="#e84545" stroke-width="1.8" />
<line x1="170.5" y1="1190.6" x2="170.5" y2="1165.2" stroke="#e03030" stroke-width="1.4" />
<line x1="163.6" y1="1165.2" x2="177.3" y2="1165.2" stroke="#e84545" stroke-width="1.8" />
<line x1="222.8" y1="1168.5" x2="222.8" y2="1138.6" stroke="#e03030" stroke-width="1.4" />
<line x1="216.0" y1="1138.6" x2="229.7" y2="1138.6" stroke="#e84545" stroke-width="1.8" />
<line x1="275.2" y1="1153.0" x2="275.2" y2="1123.2" stroke="#e03030" stroke-width="1.4" />
<line x1="268.4" y1="1123.2" x2="282.1" y2="1123.2" stroke="#e84545" stroke-width="1.8" />
<line x1="327.6" y1="1125.4" x2="327.6" y2="1093.3" stroke="#e03030" stroke-width="1.4" />
<line x1="320.7" y1="1093.3" x2="334.4" y2="1093.3" stroke="#e84545" stroke-width="1.8" />
<line x1="379.9" y1="1114.3" x2="379.9" y2="1076.7" stroke="#e03030" stroke-width="1.4" />
<line x1="373.1" y1="1076.7" x2="386.8" y2="1076.7" stroke="#e84545" stroke-width="1.8" />
<line x1="432.3" y1="1092.2" x2="432.3" y2="1052.4" stroke="#e03030" stroke-width="1.4" />
<line x1="425.5" y1="1052.4" x2="439.2" y2="1052.4" stroke="#e84545" stroke-width="1.8" />
<line x1="484.7" y1="1061.2" x2="484.7" y2="1021.4" stroke="#e03030" stroke-width="1.4" />
<line x1="477.8" y1="1021.4" x2="491.5" y2="1021.4" stroke="#e84545" stroke-width="1.8" />
<line x1="537.1" y1="1046.3" x2="537.1" y2="1005.9" stroke="#e03030" stroke-width="1.4" />
<line x1="530.2" y1="1005.9" x2="543.9" y2="1005.9" stroke="#e84545" stroke-width="1.8" />
<line x1="589.4" y1="1030.3" x2="589.4" y2="988.2" stroke="#e03030" stroke-width="1.4" />
<line x1="582.6" y1="988.2" x2="596.3" y2="988.2" stroke="#e84545" stroke-width="1.8" />
<polyline points="118.1,1212.7 170.5,1190.6 222.8,1168.5 275.2,1153.0 327.6,1125.4 379.9,1114.3 432.3,1092.2 484.7,1061.2 537.1,1046.3 589.4,1030.3" fill="none" stroke="#f00d0d" stroke-width="3.4" stroke-linejoin="round"/>
<rect x="111.4" y="1206.0" width="13.4" height="13.4" fill="#f00d0d"/>
<rect x="163.8" y="1183.9" width="13.4" height="13.4" fill="#f00d0d"/>
<rect x="216.1" y="1161.8" width="13.4" height="13.4" fill="#f00d0d"/>
<rect x="268.5" y="1146.3" width="13.4" height="13.4" fill="#f00d0d"/>
<rect x="320.9" y="1118.7" width="13.4" height="13.4" fill="#f00d0d"/>
<rect x="373.2" y="1107.6" width="13.4" height="13.4" fill="#f00d0d"/>
<rect x="425.6" y="1085.5" width="13.4" height="13.4" fill="#f00d0d"/>
<rect x="478.0" y="1054.5" width="13.4" height="13.4" fill="#f00d0d"/>
<rect x="530.4" y="1039.6" width="13.4" height="13.4" fill="#f00d0d"/>
<rect x="582.7" y="1023.6" width="13.4" height="13.4" fill="#f00d0d"/>
<line x1="118.1" y1="1206.1" x2="118.1" y2="1182.3" stroke="#2626a0" stroke-width="1.4" />
<line x1="111.2" y1="1182.3" x2="124.9" y2="1182.3" stroke="#3a40cc" stroke-width="1.8" />
<line x1="170.5" y1="1197.3" x2="170.5" y2="1171.3" stroke="#2626a0" stroke-width="1.4" />
<line x1="163.6" y1="1171.3" x2="177.3" y2="1171.3" stroke="#3a40cc" stroke-width="1.8" />
<line x1="222.8" y1="1186.2" x2="222.8" y2="1156.3" stroke="#2626a0" stroke-width="1.4" />
<line x1="216.0" y1="1156.3" x2="229.7" y2="1156.3" stroke="#3a40cc" stroke-width="1.8" />
<line x1="275.2" y1="1179.6" x2="275.2" y2="1149.7" stroke="#2626a0" stroke-width="1.4" />
<line x1="268.4" y1="1149.7" x2="282.1" y2="1149.7" stroke="#3a40cc" stroke-width="1.8" />
<line x1="327.6" y1="1175.1" x2="327.6" y2="1142.0" stroke="#2626a0" stroke-width="1.4" />
<line x1="320.7" y1="1142.0" x2="334.4" y2="1142.0" stroke="#3a40cc" stroke-width="1.8" />
<line x1="379.9" y1="1163.0" x2="379.9" y2="1129.8" stroke="#2626a0" stroke-width="1.4" />
<line x1="373.1" y1="1129.8" x2="386.8" y2="1129.8" stroke="#3a40cc" stroke-width="1.8" />
<line x1="432.3" y1="1151.9" x2="432.3" y2="1118.7" stroke="#2626a0" stroke-width="1.4" />
<line x1="425.5" y1="1118.7" x2="439.2" y2="1118.7" stroke="#3a40cc" stroke-width="1.8" />
<line x1="484.7" y1="1148.6" x2="484.7" y2="1117.6" stroke="#2626a0" stroke-width="1.4" />
<line x1="477.8" y1="1117.6" x2="491.5" y2="1117.6" stroke="#3a40cc" stroke-width="1.8" />
<line x1="537.1" y1="1143.1" x2="537.1" y2="1111.0" stroke="#2626a0" stroke-width="1.4" />
<line x1="530.2" y1="1111.0" x2="543.9" y2="1111.0" stroke="#3a40cc" stroke-width="1.8" />
<line x1="589.4" y1="1140.9" x2="589.4" y2="1108.8" stroke="#2626a0" stroke-width="1.4" />
<line x1="582.6" y1="1108.8" x2="596.3" y2="1108.8" stroke="#3a40cc" stroke-width="1.8" />
<polyline points="118.1,1206.1 170.5,1197.3 222.8,1186.2 275.2,1179.6 327.6,1175.1 379.9,1163.0 432.3,1151.9 484.7,1148.6 537.1,1143.1 589.4,1140.9" fill="none" stroke="#0a0af5" stroke-width="3.4" stroke-linejoin="round"/>
<circle cx="118.1" cy="1206.1" r="6.4" fill="#0a0af5"/>
<circle cx="170.5" cy="1197.3" r="6.4" fill="#0a0af5"/>
<circle cx="222.8" cy="1186.2" r="6.4" fill="#0a0af5"/>
<circle cx="275.2" cy="1179.6" r="6.4" fill="#0a0af5"/>
<circle cx="327.6" cy="1175.1" r="6.4" fill="#0a0af5"/>
<circle cx="379.9" cy="1163.0" r="6.4" fill="#0a0af5"/>
<circle cx="432.3" cy="1151.9" r="6.4" fill="#0a0af5"/>
<circle cx="484.7" cy="1148.6" r="6.4" fill="#0a0af5"/>
<circle cx="537.1" cy="1143.1" r="6.4" fill="#0a0af5"/>
<circle cx="589.4" cy="1140.9" r="6.4" fill="#0a0af5"/>
<text x="275.2" y="1119.2" font-size="19.5" font-weight="bold" text-anchor="middle" fill="#000" font-family="'Liberation Sans', Arial, sans-serif" >#</text>
<text x="327.6" y="1089.3" font-size="19.5" font-weight="bold" text-anchor="middle" fill="#000" font-family="'Liberation Sans', Arial, sans-serif" >#</text>
<text x="379.9" y="1072.7" font-size="19.5" font-weight="bold" text-anchor="middle" fill="#000" font-family="'Liberation Sans', Arial, sans-serif" >##</text>
<text x="432.3" y="1048.4" font-size="19.5" font-weight="bold" text-anchor="middle" fill="#000" font-family="'Liberation Sans', Arial, sans-serif" >##</text>
<text x="484.7" y="1017.4" font-size="19.5" font-weight="bold" text-anchor="middle" fill="#000" font-family="'Liberation Sans', Arial, sans-serif" >##</text>
<text x="537.1" y="1001.9" font-size="19.5" font-weight="bold" text-anchor="middle" fill="#000" font-family="'Liberation Sans', Arial, sans-serif" >##</text>
<text x="589.4" y="984.2" font-size="19.5" font-weight="bold" text-anchor="middle" fill="#000" font-family="'Liberation Sans', Arial, sans-serif" >##</text>
<line x1="741.2" y1="989.5" x2="741.2" y2="1316.1" stroke="#000" stroke-width="2.8" />
<line x1="729.0" y1="1314.7" x2="1241.5" y2="1314.7" stroke="#000" stroke-width="2.8" />
<line x1="728.4" y1="1314.7" x2="741.2" y2="1314.7" stroke="#000" stroke-width="2.8" />
<text x="726.5" y="1322.9" font-size="21" font-weight="normal" text-anchor="end" fill="#000" font-family="'Liberation Sans', Arial, sans-serif" >0</text>
<line x1="728.4" y1="1268.2" x2="741.2" y2="1268.2" stroke="#000" stroke-width="2.8" />
<text x="726.5" y="1276.4" font-size="21" font-weight="normal" text-anchor="end" fill="#000" font-family="'Liberation Sans', Arial, sans-serif" >5</text>
<line x1="728.4" y1="1221.8" x2="741.2" y2="1221.8" stroke="#000" stroke-width="2.8" />
<text x="726.5" y="1230.0" font-size="21" font-weight="normal" text-anchor="end" fill="#000" font-family="'Liberation Sans', Arial, sans-serif" >10</text>
<line x1="728.4" y1="1175.3" x2="741.2" y2="1175.3" stroke="#000" stroke-width="2.8" />
<text x="726.5" y="1183.5" font-size="21" font-weight="normal" text-anchor="end" fill="#000" font-family="'Liberation Sans', Arial, sans-serif" >15</text>
<line x1="728.4" y1="1128.9" x2="741.2" y2="1128.9" stroke="#000" stroke-width="2.8" />
<text x="726.5" y="1137.1" font-size="21" font-weight="normal" text-anchor="end" fill="#000" font-family="'Liberation Sans', Arial, sans-serif" >20</text>
<line x1="728.4" y1="1082.4" x2="741.2" y2="1082.4" stroke="#000" stroke-width="2.8" />
<text x="726.5" y="1090.6" font-size="21" font-weight="normal" text-anchor="end" fill="#000" font-family="'Liberation Sans', Arial, sans-serif" >25</text>
<line x1="728.4" y1="1036.0" x2="741.2" y2="1036.0" stroke="#000" stroke-width="2.8" />
<text x="726.5" y="1044.2" font-size="21" font-weight="normal" text-anchor="end" fill="#000" font-family="'Liberation Sans', Arial, sans-serif" >30</text>
<line x1="728.4" y1="989.5" x2="741.2" y2="989.5" stroke="#000" stroke-width="2.8" />
<text x="726.5" y="997.7" font-size="21" font-weight="normal" text-anchor="end" fill="#000" font-family="'Liberation Sans', Arial, sans-serif" >35</text>
<line x1="758.8" y1="1314.7" x2="758.8" y2="1327.0" stroke="#000" stroke-width="2.8" />
<text x="758.8" y="1346.4" font-size="21" font-weight="normal" text-anchor="middle" fill="#000" font-family="'Liberation Sans', Arial, sans-serif" >0</text>
<line x1="795.8" y1="1314.7" x2="795.8" y2="1327.0" stroke="#000" stroke-width="2.8" />
<text x="795.8" y="1346.4" font-size="21" font-weight="normal" text-anchor="middle" fill="#000" font-family="'Liberation Sans', Arial, sans-serif" >1</text>
<line x1="832.8" y1="1314.7" x2="832.8" y2="1327.0" stroke="#000" stroke-width="2.8" />
<text x="832.8" y="1346.4" font-size="21" font-weight="normal" text-anchor="middle" fill="#000" font-family="'Liberation Sans', Arial, sans-serif" >2</text>
<line x1="869.8" y1="1314.7" x2="869.8" y2="1327.0" stroke="#000" stroke-width="2.8" />
<text x="869.8" y="1346.4" font-size="21" font-weight="normal" text-anchor="middle" fill="#000" font-family="'Liberation Sans', Arial, sans-serif" >3</text>
<line x1="906.8" y1="1314.7" x2="906.8" y2="1327.0" stroke="#000" stroke-width="2.8" />
<text x="906.8" y="1346.4" font-size="21" font-weight="normal" text-anchor="middle" fill="#000" font-family="'Liberation Sans', Arial, sans-serif" >4</text>
<line x1="943.8" y1="1314.7" x2="943.8" y2="1327.0" stroke="#000" stroke-width="2.8" />
<text x="943.8" y="1346.4" font-size="21" font-weight="normal" text-anchor="middle" fill="#000" font-family="'Liberation Sans', Arial, sans-serif" >5</text>
<line x1="980.8" y1="1314.7" x2="980.8" y2="1327.0" stroke="#000" stroke-width="2.8" />
<text x="980.8" y="1346.4" font-size="21" font-weight="normal" text-anchor="middle" fill="#000" font-family="'Liberation Sans', Arial, sans-serif" >6</text>
<line x1="1017.8" y1="1314.7" x2="1017.8" y2="1327.0" stroke="#000" stroke-width="2.8" />
<text x="1017.8" y="1346.4" font-size="21" font-weight="normal" text-anchor="middle" fill="#000" font-family="'Liberation Sans', Arial, sans-serif" >7</text>
<line x1="1054.8" y1="1314.7" x2="1054.8" y2="1327.0" stroke="#000" stroke-width="2.8" />
<text x="1054.8" y="1346.4" font-size="21" font-weight="normal" text-anchor="middle" fill="#000" font-family="'Liberation Sans', Arial, sans-serif" >8</text>
<line x1="1091.8" y1="1314.7" x2="1091.8" y2="1327.0" stroke="#000" stroke-width="2.8" />
<text x="1091.8" y="1346.4" font-size="21" font-weight="normal" text-anchor="middle" fill="#000" font-family="'Liberation Sans', Arial, sans-serif" >9</text>
<line x1="1128.8" y1="1314.7" x2="1128.8" y2="1327.0" stroke="#000" stroke-width="2.8" />
<text x="1128.8" y="1346.4" font-size="21" font-weight="normal" text-anchor="middle" fill="#000" font-family="'Liberation Sans', Arial, sans-serif" >10</text>
<line x1="1165.8" y1="1314.7" x2="1165.8" y2="1327.0" stroke="#000" stroke-width="2.8" />
<text x="1165.8" y="1346.4" font-size="21" font-weight="normal" text-anchor="middle" fill="#000" font-family="'Liberation Sans', Arial, sans-serif" >11</text>
<line x1="1202.8" y1="1314.7" x2="1202.8" y2="1327.0" stroke="#000" stroke-width="2.8" />
<text x="1202.8" y="1346.4" font-size="21" font-weight="normal" text-anchor="middle" fill="#000" font-family="'Liberation Sans', Arial, sans-serif" >12</text>
<line x1="1239.8" y1="1314.7" x2="1239.8" y2="1327.0" stroke="#000" stroke-width="2.8" />
<text x="1239.8" y="1346.4" font-size="21" font-weight="normal" text-anchor="middle" fill="#000" font-family="'Liberation Sans', Arial, sans-serif" >13</text>
<text x="985.0" y="1378.3" font-size="24" font-weight="bold" text-anchor="middle" fill="#000" font-family="'Liberation Sans', Arial, sans-serif" >Age (weeks)</text>
<text x="685.5" y="1137.7" font-size="24" font-weight="bold" text-anchor="middle" fill="#000" font-family="'Liberation Sans', Arial, sans-serif" transform="rotate(-90 685.5 1137.7)" textLength="174.7" lengthAdjust="spacingAndGlyphs">Bodyweight (g)</text>
<line x1="821.1" y1="942.2" x2="861.6" y2="942.2" stroke="#0a0af5" stroke-width="1.6" />
<circle cx="841.4" cy="942.2" r="7.6" fill="#0a0af5"/>
<text x="865.9" y="952.2" font-size="24.5" font-weight="normal" text-anchor="start" fill="#000" font-family="'Liberation Sans', Arial, sans-serif" >F1-Con</text>
<line x1="1001.0" y1="942.2" x2="1039.7" y2="942.2" stroke="#f00d0d" stroke-width="1.6" />
<rect x="1012.6" y="934.5" width="15.5" height="15.5" fill="#f00d0d"/>
<text x="1052.2" y="952.2" font-size="24.5" font-weight="normal" text-anchor="start" fill="#000" font-family="'Liberation Sans', Arial, sans-serif" >F1-HFD</text>
<line x1="758.8" y1="1303.6" x2="758.8" y2="1301.7" stroke="#e03030" stroke-width="1.4" />
<line x1="753.3" y1="1301.7" x2="764.3" y2="1301.7" stroke="#e84545" stroke-width="1.8" />
<line x1="795.8" y1="1271.0" x2="795.8" y2="1265.5" stroke="#e03030" stroke-width="1.4" />
<line x1="790.3" y1="1265.5" x2="801.3" y2="1265.5" stroke="#e84545" stroke-width="1.8" />
<line x1="832.8" y1="1244.1" x2="832.8" y2="1236.7" stroke="#e03030" stroke-width="1.4" />
<line x1="827.3" y1="1236.7" x2="838.3" y2="1236.7" stroke="#e84545" stroke-width="1.8" />
<line x1="869.8" y1="1228.3" x2="869.8" y2="1218.1" stroke="#e03030" stroke-width="1.4" />
<line x1="864.3" y1="1218.1" x2="875.3" y2="1218.1" stroke="#e84545" stroke-width="1.8" />
<line x1="906.8" y1="1173.5" x2="906.8" y2="1165.1" stroke="#e03030" stroke-width="1.4" />
<line x1="901.3" y1="1165.1" x2="912.3" y2="1165.1" stroke="#e84545" stroke-width="1.8" />
<line x1="943.8" y1="1138.2" x2="943.8" y2="1127.0" stroke="#e03030" stroke-width="1.4" />
<line x1="938.3" y1="1127.0" x2="949.3" y2="1127.0" stroke="#e84545" stroke-width="1.8" />
<line x1="980.8" y1="1126.1" x2="980.8" y2="1112.6" stroke="#e03030" stroke-width="1.4" />
<line x1="975.3" y1="1112.6" x2="986.3" y2="1112.6" stroke="#e84545" stroke-width="1.8" />
<line x1="1017.8" y1="1103.8" x2="1017.8" y2="1091.7" stroke="#e03030" stroke-width="1.4" />
<line x1="1012.3" y1="1091.7" x2="1023.3" y2="1091.7" stroke="#e84545" stroke-width="1.8" />
<line x1="1054.8" y1="1071.3" x2="1054.8" y2="1060.1" stroke="#e03030" stroke-width="1.4" />
<line x1="1049.3" y1="1060.1" x2="1060.3" y2="1060.1" stroke="#e84545" stroke-width="1.8" />
<line x1="1091.8" y1="1049.9" x2="1091.8" y2="1038.8" stroke="#e03030" stroke-width="1.4" />
<line x1="1086.3" y1="1038.8" x2="1097.3" y2="1038.8" stroke="#e84545" stroke-width="1.8" />
<line x1="1128.8" y1="1040.6" x2="1128.8" y2="1027.6" stroke="#e03030" stroke-width="1.4" />
<line x1="1123.3" y1="1027.6" x2="1134.3" y2="1027.6" stroke="#e84545" stroke-width="1.8" />
<line x1="1165.8" y1="1035.0" x2="1165.8" y2="1016.5" stroke="#e03030" stroke-width="1.4" />
<line x1="1160.3" y1="1016.5" x2="1171.3" y2="1016.5" stroke="#e84545" stroke-width="1.8" />
<line x1="1202.8" y1="1022.0" x2="1202.8" y2="1021.1" stroke="#e03030" stroke-width="1.4" />
<line x1="1197.3" y1="1021.1" x2="1208.3" y2="1021.1" stroke="#e84545" stroke-width="1.8" />
<line x1="1239.8" y1="1018.3" x2="1239.8" y2="997.9" stroke="#e03030" stroke-width="1.4" />
<line x1="1234.3" y1="997.9" x2="1245.3" y2="997.9" stroke="#e84545" stroke-width="1.8" />
<polyline points="758.8,1303.6 795.8,1271.0 832.8,1244.1 869.8,1228.3 906.8,1173.5 943.8,1138.2 980.8,1126.1 1017.8,1103.8 1054.8,1071.3 1091.8,1049.9 1128.8,1040.6 1165.8,1035.0 1202.8,1022.0 1239.8,1018.3" fill="none" stroke="#f00d0d" stroke-width="3.6" stroke-linejoin="round"/>
<rect x="754.1" y="1298.9" width="9.4" height="9.4" fill="#f00d0d"/>
<rect x="791.1" y="1266.3" width="9.4" height="9.4" fill="#f00d0d"/>
<rect x="828.1" y="1239.4" width="9.4" height="9.4" fill="#f00d0d"/>
<rect x="865.1" y="1223.6" width="9.4" height="9.4" fill="#f00d0d"/>
<rect x="902.1" y="1168.8" width="9.4" height="9.4" fill="#f00d0d"/>
<rect x="939.1" y="1133.5" width="9.4" height="9.4" fill="#f00d0d"/>
<rect x="976.1" y="1121.4" width="9.4" height="9.4" fill="#f00d0d"/>
<rect x="1013.1" y="1099.1" width="9.4" height="9.4" fill="#f00d0d"/>
<rect x="1050.1" y="1066.6" width="9.4" height="9.4" fill="#f00d0d"/>
<rect x="1087.1" y="1045.2" width="9.4" height="9.4" fill="#f00d0d"/>
<rect x="1124.1" y="1035.9" width="9.4" height="9.4" fill="#f00d0d"/>
<rect x="1161.1" y="1030.3" width="9.4" height="9.4" fill="#f00d0d"/>
<rect x="1198.1" y="1017.3" width="9.4" height="9.4" fill="#f00d0d"/>
<rect x="1235.1" y="1013.6" width="9.4" height="9.4" fill="#f00d0d"/>
<line x1="758.8" y1="1301.7" x2="758.8" y2="1299.8" stroke="#2626a0" stroke-width="1.4" />
<line x1="753.3" y1="1299.8" x2="764.3" y2="1299.8" stroke="#3a40cc" stroke-width="1.8" />
<line x1="795.8" y1="1268.2" x2="795.8" y2="1260.8" stroke="#2626a0" stroke-width="1.4" />
<line x1="790.3" y1="1260.8" x2="801.3" y2="1260.8" stroke="#3a40cc" stroke-width="1.8" />
<line x1="832.8" y1="1248.7" x2="832.8" y2="1242.2" stroke="#2626a0" stroke-width="1.4" />
<line x1="827.3" y1="1242.2" x2="838.3" y2="1242.2" stroke="#3a40cc" stroke-width="1.8" />
<line x1="869.8" y1="1228.8" x2="869.8" y2="1218.1" stroke="#2626a0" stroke-width="1.4" />
<line x1="864.3" y1="1218.1" x2="875.3" y2="1218.1" stroke="#3a40cc" stroke-width="1.8" />
<line x1="906.8" y1="1175.3" x2="906.8" y2="1166.0" stroke="#2626a0" stroke-width="1.4" />
<line x1="901.3" y1="1166.0" x2="912.3" y2="1166.0" stroke="#3a40cc" stroke-width="1.8" />
<line x1="943.8" y1="1147.5" x2="943.8" y2="1127.0" stroke="#2626a0" stroke-width="1.4" />
<line x1="938.3" y1="1127.0" x2="949.3" y2="1127.0" stroke="#3a40cc" stroke-width="1.8" />
<line x1="980.8" y1="1124.2" x2="980.8" y2="1100.1" stroke="#2626a0" stroke-width="1.4" />
<line x1="975.3" y1="1100.1" x2="986.3" y2="1100.1" stroke="#3a40cc" stroke-width="1.8" />
<line x1="1017.8" y1="1098.2" x2="1017.8" y2="1075.0" stroke="#2626a0" stroke-width="1.4" />
<line x1="1012.3" y1="1075.0" x2="1023.3" y2="1075.0" stroke="#3a40cc" stroke-width="1.8" />
<line x1="1054.8" y1="1065.7" x2="1054.8" y2="1041.5" stroke="#2626a0" stroke-width="1.4" />
<line x1="1049.3" y1="1041.5" x2="1060.3" y2="1041.5" stroke="#3a40cc" stroke-width="1.8" />
<line x1="1091.8" y1="1058.3" x2="1091.8" y2="1035.0" stroke="#2626a0" stroke-width="1.4" />
<line x1="1086.3" y1="1035.0" x2="1097.3" y2="1035.0" stroke="#3a40cc" stroke-width="1.8" />
<line x1="1128.8" y1="1047.1" x2="1128.8" y2="1025.7" stroke="#2626a0" stroke-width="1.4" />
<line x1="1123.3" y1="1025.7" x2="1134.3" y2="1025.7" stroke="#3a40cc" stroke-width="1.8" />
<line x1="1165.8" y1="1038.8" x2="1165.8" y2="1016.5" stroke="#2626a0" stroke-width="1.4" />
<line x1="1160.3" y1="1016.5" x2="1171.3" y2="1016.5" stroke="#3a40cc" stroke-width="1.8" />
<line x1="1202.8" y1="1023.9" x2="1202.8" y2="1004.4" stroke="#2626a0" stroke-width="1.4" />
<line x1="1197.3" y1="1004.4" x2="1208.3" y2="1004.4" stroke="#3a40cc" stroke-width="1.8" />
<line x1="1239.8" y1="1022.0" x2="1239.8" y2="1003.5" stroke="#2626a0" stroke-width="1.4" />
<line x1="1234.3" y1="1003.5" x2="1245.3" y2="1003.5" stroke="#3a40cc" stroke-width="1.8" />
<polyline points="758.8,1301.7 795.8,1268.2 832.8,1248.7 869.8,1228.8 906.8,1175.3 943.8,1147.5 980.8,1124.2 1017.8,1098.2 1054.8,1065.7 1091.8,1058.3 1128.8,1047.1 1165.8,1038.8 1202.8,1023.9 1239.8,1022.0" fill="none" stroke="#0a0af5" stroke-width="3.6" stroke-linejoin="round"/>
<circle cx="758.8" cy="1301.7" r="4.9" fill="#0a0af5"/>
<circle cx="795.8" cy="1268.2" r="4.9" fill="#0a0af5"/>
<circle cx="832.8" cy="1248.7" r="4.9" fill="#0a0af5"/>
<circle cx="869.8" cy="1228.8" r="4.9" fill="#0a0af5"/>
<circle cx="906.8" cy="1175.3" r="4.9" fill="#0a0af5"/>
<circle cx="943.8" cy="1147.5" r="4.9" fill="#0a0af5"/>
<circle cx="980.8" cy="1124.2" r="4.9" fill="#0a0af5"/>
<circle cx="1017.8" cy="1098.2" r="4.9" fill="#0a0af5"/>
<circle cx="1054.8" cy="1065.7" r="4.9" fill="#0a0af5"/>
<circle cx="1091.8" cy="1058.3" r="4.9" fill="#0a0af5"/>
<circle cx="1128.8" cy="1047.1" r="4.9" fill="#0a0af5"/>
<circle cx="1165.8" cy="1038.8" r="4.9" fill="#0a0af5"/>
<circle cx="1202.8" cy="1023.9" r="4.9" fill="#0a0af5"/>
<circle cx="1239.8" cy="1022.0" r="4.9" fill="#0a0af5"/>
<line x1="1382.5" y1="979.8" x2="1382.5" y2="1312.3" stroke="#000" stroke-width="2.8" />
<line x1="1369.0" y1="1310.9" x2="1888.0" y2="1310.9" stroke="#000" stroke-width="2.8" />
<line x1="1369.5" y1="1310.9" x2="1382.5" y2="1310.9" stroke="#000" stroke-width="2.8" />
<text x="1367.5" y="1319.1" font-size="21" font-weight="normal" text-anchor="end" fill="#000" font-family="'Liberation Sans', Arial, sans-serif" >0</text>
<line x1="1369.5" y1="1263.9" x2="1382.5" y2="1263.9" stroke="#000" stroke-width="2.8" />
<text x="1367.5" y="1272.1" font-size="21" font-weight="normal" text-anchor="end" fill="#000" font-family="'Liberation Sans', Arial, sans-serif" >5</text>
<line x1="1369.5" y1="1216.9" x2="1382.5" y2="1216.9" stroke="#000" stroke-width="2.8" />
<text x="1367.5" y="1225.1" font-size="21" font-weight="normal" text-anchor="end" fill="#000" font-family="'Liberation Sans', Arial, sans-serif" >10</text>
<line x1="1369.5" y1="1169.9" x2="1382.5" y2="1169.9" stroke="#000" stroke-width="2.8" />
<text x="1367.5" y="1178.1" font-size="21" font-weight="normal" text-anchor="end" fill="#000" font-family="'Liberation Sans', Arial, sans-serif" >15</text>
<line x1="1369.5" y1="1122.9" x2="1382.5" y2="1122.9" stroke="#000" stroke-width="2.8" />
<text x="1367.5" y="1131.1" font-size="21" font-weight="normal" text-anchor="end" fill="#000" font-family="'Liberation Sans', Arial, sans-serif" >20</text>
<line x1="1369.5" y1="1075.9" x2="1382.5" y2="1075.9" stroke="#000" stroke-width="2.8" />
<text x="1367.5" y="1084.1" font-size="21" font-weight="normal" text-anchor="end" fill="#000" font-family="'Liberation Sans', Arial, sans-serif" >25</text>
<line x1="1369.5" y1="1028.9" x2="1382.5" y2="1028.9" stroke="#000" stroke-width="2.8" />
<text x="1367.5" y="1037.1" font-size="21" font-weight="normal" text-anchor="end" fill="#000" font-family="'Liberation Sans', Arial, sans-serif" >30</text>
<line x1="1369.5" y1="981.9" x2="1382.5" y2="981.9" stroke="#000" stroke-width="2.8" />
<text x="1367.5" y="990.1" font-size="21" font-weight="normal" text-anchor="end" fill="#000" font-family="'Liberation Sans', Arial, sans-serif" >35</text>
<line x1="1400.1" y1="1310.9" x2="1400.1" y2="1323.0" stroke="#000" stroke-width="2.8" />
<text x="1400.1" y="1341.8" font-size="21" font-weight="normal" text-anchor="middle" fill="#000" font-family="'Liberation Sans', Arial, sans-serif" >0</text>
<line x1="1437.4" y1="1310.9" x2="1437.4" y2="1323.0" stroke="#000" stroke-width="2.8" />
<text x="1437.4" y="1341.8" font-size="21" font-weight="normal" text-anchor="middle" fill="#000" font-family="'Liberation Sans', Arial, sans-serif" >1</text>
<line x1="1474.8" y1="1310.9" x2="1474.8" y2="1323.0" stroke="#000" stroke-width="2.8" />
<text x="1474.8" y="1341.8" font-size="21" font-weight="normal" text-anchor="middle" fill="#000" font-family="'Liberation Sans', Arial, sans-serif" >2</text>
<line x1="1512.1" y1="1310.9" x2="1512.1" y2="1323.0" stroke="#000" stroke-width="2.8" />
<text x="1512.1" y="1341.8" font-size="21" font-weight="normal" text-anchor="middle" fill="#000" font-family="'Liberation Sans', Arial, sans-serif" >3</text>
<line x1="1549.4" y1="1310.9" x2="1549.4" y2="1323.0" stroke="#000" stroke-width="2.8" />
<text x="1549.4" y="1341.8" font-size="21" font-weight="normal" text-anchor="middle" fill="#000" font-family="'Liberation Sans', Arial, sans-serif" >4</text>
<line x1="1586.8" y1="1310.9" x2="1586.8" y2="1323.0" stroke="#000" stroke-width="2.8" />
<text x="1586.8" y="1341.8" font-size="21" font-weight="normal" text-anchor="middle" fill="#000" font-family="'Liberation Sans', Arial, sans-serif" >5</text>
<line x1="1624.1" y1="1310.9" x2="1624.1" y2="1323.0" stroke="#000" stroke-width="2.8" />
<text x="1624.1" y="1341.8" font-size="21" font-weight="normal" text-anchor="middle" fill="#000" font-family="'Liberation Sans', Arial, sans-serif" >6</text>
<line x1="1661.4" y1="1310.9" x2="1661.4" y2="1323.0" stroke="#000" stroke-width="2.8" />
<text x="1661.4" y="1341.8" font-size="21" font-weight="normal" text-anchor="middle" fill="#000" font-family="'Liberation Sans', Arial, sans-serif" >7</text>
<line x1="1698.7" y1="1310.9" x2="1698.7" y2="1323.0" stroke="#000" stroke-width="2.8" />
<text x="1698.7" y="1341.8" font-size="21" font-weight="normal" text-anchor="middle" fill="#000" font-family="'Liberation Sans', Arial, sans-serif" >8</text>
<line x1="1736.1" y1="1310.9" x2="1736.1" y2="1323.0" stroke="#000" stroke-width="2.8" />
<text x="1736.1" y="1341.8" font-size="21" font-weight="normal" text-anchor="middle" fill="#000" font-family="'Liberation Sans', Arial, sans-serif" >9</text>
<line x1="1773.4" y1="1310.9" x2="1773.4" y2="1323.0" stroke="#000" stroke-width="2.8" />
<text x="1773.4" y="1341.8" font-size="21" font-weight="normal" text-anchor="middle" fill="#000" font-family="'Liberation Sans', Arial, sans-serif" >10</text>
<line x1="1810.7" y1="1310.9" x2="1810.7" y2="1323.0" stroke="#000" stroke-width="2.8" />
<text x="1810.7" y="1341.8" font-size="21" font-weight="normal" text-anchor="middle" fill="#000" font-family="'Liberation Sans', Arial, sans-serif" >11</text>
<line x1="1848.1" y1="1310.9" x2="1848.1" y2="1323.0" stroke="#000" stroke-width="2.8" />
<text x="1848.1" y="1341.8" font-size="21" font-weight="normal" text-anchor="middle" fill="#000" font-family="'Liberation Sans', Arial, sans-serif" >12</text>
<line x1="1885.4" y1="1310.9" x2="1885.4" y2="1323.0" stroke="#000" stroke-width="2.8" />
<text x="1885.4" y="1341.8" font-size="21" font-weight="normal" text-anchor="middle" fill="#000" font-family="'Liberation Sans', Arial, sans-serif" >13</text>
<text x="1628.3" y="1378.3" font-size="24" font-weight="bold" text-anchor="middle" fill="#000" font-family="'Liberation Sans', Arial, sans-serif" >Age (weeks)</text>
<text x="1330.5" y="1138.0" font-size="24" font-weight="bold" text-anchor="middle" fill="#000" font-family="'Liberation Sans', Arial, sans-serif" transform="rotate(-90 1330.5 1138)" textLength="174.2" lengthAdjust="spacingAndGlyphs">Bodyweight (g)</text>
<line x1="1474.0" y1="942.2" x2="1513.8" y2="942.2" stroke="#0a0af5" stroke-width="1.6" />
<circle cx="1493.9" cy="942.2" r="7.6" fill="#0a0af5"/>
<text x="1519.0" y="952.2" font-size="24.5" font-weight="normal" text-anchor="start" fill="#000" font-family="'Liberation Sans', Arial, sans-serif" >F6-Con</text>
<line x1="1654.0" y1="942.2" x2="1691.6" y2="942.2" stroke="#f00d0d" stroke-width="1.6" />
<rect x="1665.0" y="934.5" width="15.5" height="15.5" fill="#f00d0d"/>
<text x="1704.6" y="952.2" font-size="24.5" font-weight="normal" text-anchor="start" fill="#000" font-family="'Liberation Sans', Arial, sans-serif" >F6-HFD</text>
<line x1="1400.1" y1="1298.7" x2="1400.1" y2="1296.8" stroke="#e03030" stroke-width="1.4" />
<line x1="1394.6" y1="1296.8" x2="1405.6" y2="1296.8" stroke="#e84545" stroke-width="1.8" />
<line x1="1437.4" y1="1268.6" x2="1437.4" y2="1263.9" stroke="#e03030" stroke-width="1.4" />
<line x1="1431.9" y1="1263.9" x2="1442.9" y2="1263.9" stroke="#e84545" stroke-width="1.8" />
<line x1="1474.8" y1="1230.5" x2="1474.8" y2="1223.5" stroke="#e03030" stroke-width="1.4" />
<line x1="1469.3" y1="1223.5" x2="1480.3" y2="1223.5" stroke="#e84545" stroke-width="1.8" />
<line x1="1512.1" y1="1194.3" x2="1512.1" y2="1181.2" stroke="#e03030" stroke-width="1.4" />
<line x1="1506.6" y1="1181.2" x2="1517.6" y2="1181.2" stroke="#e84545" stroke-width="1.8" />
<line x1="1549.4" y1="1134.7" x2="1549.4" y2="1122.0" stroke="#e03030" stroke-width="1.4" />
<line x1="1543.9" y1="1122.0" x2="1554.9" y2="1122.0" stroke="#e84545" stroke-width="1.8" />
<line x1="1586.8" y1="1101.3" x2="1586.8" y2="1080.6" stroke="#e03030" stroke-width="1.4" />
<line x1="1581.2" y1="1080.6" x2="1592.2" y2="1080.6" stroke="#e84545" stroke-width="1.8" />
<line x1="1624.1" y1="1077.8" x2="1624.1" y2="1066.5" stroke="#e03030" stroke-width="1.4" />
<line x1="1618.6" y1="1066.5" x2="1629.6" y2="1066.5" stroke="#e84545" stroke-width="1.8" />
<line x1="1661.4" y1="1066.5" x2="1661.4" y2="1043.5" stroke="#e03030" stroke-width="1.4" />
<line x1="1655.9" y1="1043.5" x2="1666.9" y2="1043.5" stroke="#e84545" stroke-width="1.8" />
<line x1="1698.7" y1="1059.9" x2="1698.7" y2="1036.9" stroke="#e03030" stroke-width="1.4" />
<line x1="1693.2" y1="1036.9" x2="1704.2" y2="1036.9" stroke="#e84545" stroke-width="1.8" />
<line x1="1736.1" y1="1058.0" x2="1736.1" y2="1037.4" stroke="#e03030" stroke-width="1.4" />
<line x1="1730.6" y1="1037.4" x2="1741.6" y2="1037.4" stroke="#e84545" stroke-width="1.8" />
<line x1="1773.4" y1="1044.9" x2="1773.4" y2="1021.4" stroke="#e03030" stroke-width="1.4" />
<line x1="1767.9" y1="1021.4" x2="1778.9" y2="1021.4" stroke="#e84545" stroke-width="1.8" />
<line x1="1810.7" y1="1031.7" x2="1810.7" y2="1011.0" stroke="#e03030" stroke-width="1.4" />
<line x1="1805.2" y1="1011.0" x2="1816.2" y2="1011.0" stroke="#e84545" stroke-width="1.8" />
<line x1="1848.1" y1="1018.6" x2="1848.1" y2="996.0" stroke="#e03030" stroke-width="1.4" />
<line x1="1842.6" y1="996.0" x2="1853.6" y2="996.0" stroke="#e84545" stroke-width="1.8" />
<line x1="1885.4" y1="1012.0" x2="1885.4" y2="988.5" stroke="#e03030" stroke-width="1.4" />
<line x1="1879.9" y1="988.5" x2="1890.9" y2="988.5" stroke="#e84545" stroke-width="1.8" />
<polyline points="1400.1,1298.7 1437.4,1268.6 1474.8,1230.5 1512.1,1194.3 1549.4,1134.7 1586.8,1101.3 1624.1,1077.8 1661.4,1066.5 1698.7,1059.9 1736.1,1058.0 1773.4,1044.9 1810.7,1031.7 1848.1,1018.6 1885.4,1012.0" fill="none" stroke="#f00d0d" stroke-width="3.6" stroke-linejoin="round"/>
<rect x="1395.4" y="1294.0" width="9.4" height="9.4" fill="#f00d0d"/>
<rect x="1432.7" y="1263.9" width="9.4" height="9.4" fill="#f00d0d"/>
<rect x="1470.1" y="1225.8" width="9.4" height="9.4" fill="#f00d0d"/>
<rect x="1507.4" y="1189.6" width="9.4" height="9.4" fill="#f00d0d"/>
<rect x="1544.7" y="1130.0" width="9.4" height="9.4" fill="#f00d0d"/>
<rect x="1582.0" y="1096.6" width="9.4" height="9.4" fill="#f00d0d"/>
<rect x="1619.4" y="1073.1" width="9.4" height="9.4" fill="#f00d0d"/>
<rect x="1656.7" y="1061.8" width="9.4" height="9.4" fill="#f00d0d"/>
<rect x="1694.0" y="1055.2" width="9.4" height="9.4" fill="#f00d0d"/>
<rect x="1731.4" y="1053.3" width="9.4" height="9.4" fill="#f00d0d"/>
<rect x="1768.7" y="1040.2" width="9.4" height="9.4" fill="#f00d0d"/>
<rect x="1806.0" y="1027.0" width="9.4" height="9.4" fill="#f00d0d"/>
<rect x="1843.4" y="1013.9" width="9.4" height="9.4" fill="#f00d0d"/>
<rect x="1880.7" y="1007.3" width="9.4" height="9.4" fill="#f00d0d"/>
<line x1="1400.1" y1="1298.7" x2="1400.1" y2="1296.8" stroke="#2626a0" stroke-width="1.4" />
<line x1="1394.6" y1="1296.8" x2="1405.6" y2="1296.8" stroke="#3a40cc" stroke-width="1.8" />
<line x1="1437.4" y1="1266.7" x2="1437.4" y2="1258.3" stroke="#2626a0" stroke-width="1.4" />
<line x1="1431.9" y1="1258.3" x2="1442.9" y2="1258.3" stroke="#3a40cc" stroke-width="1.8" />
<line x1="1474.8" y1="1236.2" x2="1474.8" y2="1229.1" stroke="#2626a0" stroke-width="1.4" />
<line x1="1469.3" y1="1229.1" x2="1480.3" y2="1229.1" stroke="#3a40cc" stroke-width="1.8" />
<line x1="1512.1" y1="1191.1" x2="1512.1" y2="1179.3" stroke="#2626a0" stroke-width="1.4" />
<line x1="1506.6" y1="1179.3" x2="1517.6" y2="1179.3" stroke="#3a40cc" stroke-width="1.8" />
<line x1="1549.4" y1="1138.9" x2="1549.4" y2="1124.8" stroke="#2626a0" stroke-width="1.4" />
<line x1="1543.9" y1="1124.8" x2="1554.9" y2="1124.8" stroke="#3a40cc" stroke-width="1.8" />
<line x1="1586.8" y1="1107.9" x2="1586.8" y2="1089.1" stroke="#2626a0" stroke-width="1.4" />
<line x1="1581.2" y1="1089.1" x2="1592.2" y2="1089.1" stroke="#3a40cc" stroke-width="1.8" />
<line x1="1624.1" y1="1081.5" x2="1624.1" y2="1059.9" stroke="#2626a0" stroke-width="1.4" />
<line x1="1618.6" y1="1059.9" x2="1629.6" y2="1059.9" stroke="#3a40cc" stroke-width="1.8" />
<line x1="1661.4" y1="1076.8" x2="1661.4" y2="1059.9" stroke="#2626a0" stroke-width="1.4" />
<line x1="1655.9" y1="1059.9" x2="1666.9" y2="1059.9" stroke="#3a40cc" stroke-width="1.8" />
<line x1="1698.7" y1="1067.4" x2="1698.7" y2="1045.8" stroke="#2626a0" stroke-width="1.4" />
<line x1="1693.2" y1="1045.8" x2="1704.2" y2="1045.8" stroke="#3a40cc" stroke-width="1.8" />
<line x1="1736.1" y1="1054.3" x2="1736.1" y2="1030.8" stroke="#2626a0" stroke-width="1.4" />
<line x1="1730.6" y1="1030.8" x2="1741.6" y2="1030.8" stroke="#3a40cc" stroke-width="1.8" />
<line x1="1773.4" y1="1051.0" x2="1773.4" y2="1029.4" stroke="#2626a0" stroke-width="1.4" />
<line x1="1767.9" y1="1029.4" x2="1778.9" y2="1029.4" stroke="#3a40cc" stroke-width="1.8" />
<line x1="1810.7" y1="1047.2" x2="1810.7" y2="1028.9" stroke="#2626a0" stroke-width="1.4" />
<line x1="1805.2" y1="1028.9" x2="1816.2" y2="1028.9" stroke="#3a40cc" stroke-width="1.8" />
<line x1="1848.1" y1="1036.4" x2="1848.1" y2="1013.9" stroke="#2626a0" stroke-width="1.4" />
<line x1="1842.6" y1="1013.9" x2="1853.6" y2="1013.9" stroke="#3a40cc" stroke-width="1.8" />
<line x1="1885.4" y1="1031.7" x2="1885.4" y2="1012.0" stroke="#2626a0" stroke-width="1.4" />
<line x1="1879.9" y1="1012.0" x2="1890.9" y2="1012.0" stroke="#3a40cc" stroke-width="1.8" />
<polyline points="1400.1,1298.7 1437.4,1266.7 1474.8,1236.2 1512.1,1191.1 1549.4,1138.9 1586.8,1107.9 1624.1,1081.5 1661.4,1076.8 1698.7,1067.4 1736.1,1054.3 1773.4,1051.0 1810.7,1047.2 1848.1,1036.4 1885.4,1031.7" fill="none" stroke="#0a0af5" stroke-width="3.6" stroke-linejoin="round"/>
<circle cx="1400.1" cy="1298.7" r="4.9" fill="#0a0af5"/>
<circle cx="1437.4" cy="1266.7" r="4.9" fill="#0a0af5"/>
<circle cx="1474.8" cy="1236.2" r="4.9" fill="#0a0af5"/>
<circle cx="1512.1" cy="1191.1" r="4.9" fill="#0a0af5"/>
<circle cx="1549.4" cy="1138.9" r="4.9" fill="#0a0af5"/>
<circle cx="1586.8" cy="1107.9" r="4.9" fill="#0a0af5"/>
<circle cx="1624.1" cy="1081.5" r="4.9" fill="#0a0af5"/>
<circle cx="1661.4" cy="1076.8" r="4.9" fill="#0a0af5"/>
<circle cx="1698.7" cy="1067.4" r="4.9" fill="#0a0af5"/>
<circle cx="1736.1" cy="1054.3" r="4.9" fill="#0a0af5"/>
<circle cx="1773.4" cy="1051.0" r="4.9" fill="#0a0af5"/>
<circle cx="1810.7" cy="1047.2" r="4.9" fill="#0a0af5"/>
<circle cx="1848.1" cy="1036.4" r="4.9" fill="#0a0af5"/>
<circle cx="1885.4" cy="1031.7" r="4.9" fill="#0a0af5"/>
<text x="1810.7" y="1007.0" font-size="19" font-weight="normal" text-anchor="middle" fill="#111" font-family="'Liberation Serif', 'Times New Roman', serif" >#</text>
<text x="1848.1" y="992.0" font-size="19" font-weight="normal" text-anchor="middle" fill="#111" font-family="'Liberation Serif', 'Times New Roman', serif" >#</text>
<text x="1885.4" y="984.5" font-size="19" font-weight="normal" text-anchor="middle" fill="#111" font-family="'Liberation Serif', 'Times New Roman', serif" >#</text>
<line x1="95.5" y1="1549.6" x2="95.5" y2="1879.2" stroke="#000" stroke-width="2.8" />
<line x1="82.0" y1="1877.8" x2="597.0" y2="1877.8" stroke="#000" stroke-width="2.8" />
<line x1="81.5" y1="1877.8" x2="95.5" y2="1877.8" stroke="#000" stroke-width="2.8" />
<text x="80.3" y="1886.0" font-size="21" font-weight="normal" text-anchor="end" fill="#000" font-family="'Liberation Sans', Arial, sans-serif" >0</text>
<line x1="81.5" y1="1837.0" x2="95.5" y2="1837.0" stroke="#000" stroke-width="2.8" />
<text x="80.3" y="1845.2" font-size="21" font-weight="normal" text-anchor="end" fill="#000" font-family="'Liberation Sans', Arial, sans-serif" >5</text>
<line x1="81.5" y1="1796.2" x2="95.5" y2="1796.2" stroke="#000" stroke-width="2.8" />
<text x="80.3" y="1804.4" font-size="21" font-weight="normal" text-anchor="end" fill="#000" font-family="'Liberation Sans', Arial, sans-serif" >10</text>
<line x1="81.5" y1="1755.4" x2="95.5" y2="1755.4" stroke="#000" stroke-width="2.8" />
<text x="80.3" y="1763.6" font-size="21" font-weight="normal" text-anchor="end" fill="#000" font-family="'Liberation Sans', Arial, sans-serif" >15</text>
<line x1="81.5" y1="1714.6" x2="95.5" y2="1714.6" stroke="#000" stroke-width="2.8" />
<text x="80.3" y="1722.8" font-size="21" font-weight="normal" text-anchor="end" fill="#000" font-family="'Liberation Sans', Arial, sans-serif" >20</text>
<line x1="81.5" y1="1673.9" x2="95.5" y2="1673.9" stroke="#000" stroke-width="2.8" />
<text x="80.3" y="1682.1" font-size="21" font-weight="normal" text-anchor="end" fill="#000" font-family="'Liberation Sans', Arial, sans-serif" >25</text>
<line x1="81.5" y1="1633.1" x2="95.5" y2="1633.1" stroke="#000" stroke-width="2.8" />
<text x="80.3" y="1641.3" font-size="21" font-weight="normal" text-anchor="end" fill="#000" font-family="'Liberation Sans', Arial, sans-serif" >30</text>
<line x1="81.5" y1="1592.3" x2="95.5" y2="1592.3" stroke="#000" stroke-width="2.8" />
<text x="80.3" y="1600.5" font-size="21" font-weight="normal" text-anchor="end" fill="#000" font-family="'Liberation Sans', Arial, sans-serif" >35</text>
<line x1="81.5" y1="1551.5" x2="95.5" y2="1551.5" stroke="#000" stroke-width="2.8" />
<text x="80.3" y="1559.7" font-size="21" font-weight="normal" text-anchor="end" fill="#000" font-family="'Liberation Sans', Arial, sans-serif" >40</text>
<line x1="113.7" y1="1877.8" x2="113.7" y2="1890.0" stroke="#000" stroke-width="2.8" />
<text x="113.7" y="1907.3" font-size="21" font-weight="normal" text-anchor="middle" fill="#000" font-family="'Liberation Sans', Arial, sans-serif" >0</text>
<line x1="150.7" y1="1877.8" x2="150.7" y2="1890.0" stroke="#000" stroke-width="2.8" />
<text x="150.7" y="1907.3" font-size="21" font-weight="normal" text-anchor="middle" fill="#000" font-family="'Liberation Sans', Arial, sans-serif" >1</text>
<line x1="187.7" y1="1877.8" x2="187.7" y2="1890.0" stroke="#000" stroke-width="2.8" />
<text x="187.7" y="1907.3" font-size="21" font-weight="normal" text-anchor="middle" fill="#000" font-family="'Liberation Sans', Arial, sans-serif" >2</text>
<line x1="224.7" y1="1877.8" x2="224.7" y2="1890.0" stroke="#000" stroke-width="2.8" />
<text x="224.7" y="1907.3" font-size="21" font-weight="normal" text-anchor="middle" fill="#000" font-family="'Liberation Sans', Arial, sans-serif" >3</text>
<line x1="261.7" y1="1877.8" x2="261.7" y2="1890.0" stroke="#000" stroke-width="2.8" />
<text x="261.7" y="1907.3" font-size="21" font-weight="normal" text-anchor="middle" fill="#000" font-family="'Liberation Sans', Arial, sans-serif" >4</text>
<line x1="298.7" y1="1877.8" x2="298.7" y2="1890.0" stroke="#000" stroke-width="2.8" />
<text x="298.7" y="1907.3" font-size="21" font-weight="normal" text-anchor="middle" fill="#000" font-family="'Liberation Sans', Arial, sans-serif" >5</text>
<line x1="335.7" y1="1877.8" x2="335.7" y2="1890.0" stroke="#000" stroke-width="2.8" />
<text x="335.7" y="1907.3" font-size="21" font-weight="normal" text-anchor="middle" fill="#000" font-family="'Liberation Sans', Arial, sans-serif" >6</text>
<line x1="372.7" y1="1877.8" x2="372.7" y2="1890.0" stroke="#000" stroke-width="2.8" />
<text x="372.7" y="1907.3" font-size="21" font-weight="normal" text-anchor="middle" fill="#000" font-family="'Liberation Sans', Arial, sans-serif" >7</text>
<line x1="409.7" y1="1877.8" x2="409.7" y2="1890.0" stroke="#000" stroke-width="2.8" />
<text x="409.7" y="1907.3" font-size="21" font-weight="normal" text-anchor="middle" fill="#000" font-family="'Liberation Sans', Arial, sans-serif" >8</text>
<line x1="446.7" y1="1877.8" x2="446.7" y2="1890.0" stroke="#000" stroke-width="2.8" />
<text x="446.7" y="1907.3" font-size="21" font-weight="normal" text-anchor="middle" fill="#000" font-family="'Liberation Sans', Arial, sans-serif" >9</text>
<line x1="483.7" y1="1877.8" x2="483.7" y2="1890.0" stroke="#000" stroke-width="2.8" />
<text x="483.7" y="1907.3" font-size="21" font-weight="normal" text-anchor="middle" fill="#000" font-family="'Liberation Sans', Arial, sans-serif" >10</text>
<line x1="520.7" y1="1877.8" x2="520.7" y2="1890.0" stroke="#000" stroke-width="2.8" />
<text x="520.7" y="1907.3" font-size="21" font-weight="normal" text-anchor="middle" fill="#000" font-family="'Liberation Sans', Arial, sans-serif" >11</text>
<line x1="557.7" y1="1877.8" x2="557.7" y2="1890.0" stroke="#000" stroke-width="2.8" />
<text x="557.7" y="1907.3" font-size="21" font-weight="normal" text-anchor="middle" fill="#000" font-family="'Liberation Sans', Arial, sans-serif" >12</text>
<line x1="594.7" y1="1877.8" x2="594.7" y2="1890.0" stroke="#000" stroke-width="2.8" />
<text x="594.7" y="1907.3" font-size="21" font-weight="normal" text-anchor="middle" fill="#000" font-family="'Liberation Sans', Arial, sans-serif" >13</text>
<text x="334.2" y="1935.5" font-size="24" font-weight="bold" text-anchor="middle" fill="#000" font-family="'Liberation Sans', Arial, sans-serif" >Age (weeks)</text>
<text x="26.4" y="1701.0" font-size="24" font-weight="bold" text-anchor="middle" fill="#000" font-family="'Liberation Sans', Arial, sans-serif" transform="rotate(-90 26.4 1701)" textLength="163.8" lengthAdjust="spacingAndGlyphs">Bodyweight (g)</text>
<line x1="169.0" y1="1528.2" x2="209.6" y2="1528.2" stroke="#0a0af5" stroke-width="1.6" />
<circle cx="189.3" cy="1528.2" r="7.6" fill="#0a0af5"/>
<text x="214.8" y="1538.2" font-size="24.5" font-weight="normal" text-anchor="start" fill="#000" font-family="'Liberation Sans', Arial, sans-serif" >F8-Con</text>
<line x1="348.8" y1="1528.2" x2="386.8" y2="1528.2" stroke="#f00d0d" stroke-width="1.6" />
<rect x="360.1" y="1520.5" width="15.5" height="15.5" fill="#f00d0d"/>
<text x="399.7" y="1538.2" font-size="24.5" font-weight="normal" text-anchor="start" fill="#000" font-family="'Liberation Sans', Arial, sans-serif" >F8-HFD</text>
<line x1="113.7" y1="1866.4" x2="113.7" y2="1864.7" stroke="#e03030" stroke-width="1.4" />
<line x1="108.2" y1="1864.7" x2="119.2" y2="1864.7" stroke="#e84545" stroke-width="1.8" />
<line x1="150.7" y1="1835.8" x2="150.7" y2="1832.1" stroke="#e03030" stroke-width="1.4" />
<line x1="145.2" y1="1832.1" x2="156.2" y2="1832.1" stroke="#e84545" stroke-width="1.8" />
<line x1="187.7" y1="1808.9" x2="187.7" y2="1805.2" stroke="#e03030" stroke-width="1.4" />
<line x1="182.2" y1="1805.2" x2="193.2" y2="1805.2" stroke="#e84545" stroke-width="1.8" />
<line x1="224.7" y1="1770.9" x2="224.7" y2="1761.1" stroke="#e03030" stroke-width="1.4" />
<line x1="219.2" y1="1761.1" x2="230.2" y2="1761.1" stroke="#e84545" stroke-width="1.8" />
<line x1="261.7" y1="1742.8" x2="261.7" y2="1729.3" stroke="#e03030" stroke-width="1.4" />
<line x1="256.2" y1="1729.3" x2="267.2" y2="1729.3" stroke="#e84545" stroke-width="1.8" />
<line x1="298.7" y1="1706.9" x2="298.7" y2="1686.1" stroke="#e03030" stroke-width="1.4" />
<line x1="293.2" y1="1686.1" x2="304.2" y2="1686.1" stroke="#e84545" stroke-width="1.8" />
<line x1="335.7" y1="1675.5" x2="335.7" y2="1655.1" stroke="#e03030" stroke-width="1.4" />
<line x1="330.2" y1="1655.1" x2="341.2" y2="1655.1" stroke="#e84545" stroke-width="1.8" />
<line x1="372.7" y1="1660.8" x2="372.7" y2="1640.4" stroke="#e03030" stroke-width="1.4" />
<line x1="367.2" y1="1640.4" x2="378.2" y2="1640.4" stroke="#e84545" stroke-width="1.8" />
<line x1="409.7" y1="1646.1" x2="409.7" y2="1620.8" stroke="#e03030" stroke-width="1.4" />
<line x1="404.2" y1="1620.8" x2="415.2" y2="1620.8" stroke="#e84545" stroke-width="1.8" />
<line x1="446.7" y1="1636.3" x2="446.7" y2="1614.7" stroke="#e03030" stroke-width="1.4" />
<line x1="441.2" y1="1614.7" x2="452.2" y2="1614.7" stroke="#e84545" stroke-width="1.8" />
<line x1="483.7" y1="1626.1" x2="483.7" y2="1603.7" stroke="#e03030" stroke-width="1.4" />
<line x1="478.2" y1="1603.7" x2="489.2" y2="1603.7" stroke="#e84545" stroke-width="1.8" />
<line x1="520.7" y1="1622.5" x2="520.7" y2="1598.8" stroke="#e03030" stroke-width="1.4" />
<line x1="515.2" y1="1598.8" x2="526.2" y2="1598.8" stroke="#e84545" stroke-width="1.8" />
<line x1="557.7" y1="1613.5" x2="557.7" y2="1590.7" stroke="#e03030" stroke-width="1.4" />
<line x1="552.2" y1="1590.7" x2="563.2" y2="1590.7" stroke="#e84545" stroke-width="1.8" />
<line x1="594.7" y1="1612.7" x2="594.7" y2="1589.8" stroke="#e03030" stroke-width="1.4" />
<line x1="589.2" y1="1589.8" x2="600.2" y2="1589.8" stroke="#e84545" stroke-width="1.8" />
<polyline points="113.7,1866.4 150.7,1835.8 187.7,1808.9 224.7,1770.9 261.7,1742.8 298.7,1706.9 335.7,1675.5 372.7,1660.8 409.7,1646.1 446.7,1636.3 483.7,1626.1 520.7,1622.5 557.7,1613.5 594.7,1612.7" fill="none" stroke="#f00d0d" stroke-width="3.6" stroke-linejoin="round"/>
<rect x="109.0" y="1861.7" width="9.4" height="9.4" fill="#f00d0d"/>
<rect x="146.0" y="1831.1" width="9.4" height="9.4" fill="#f00d0d"/>
<rect x="183.0" y="1804.2" width="9.4" height="9.4" fill="#f00d0d"/>
<rect x="220.0" y="1766.2" width="9.4" height="9.4" fill="#f00d0d"/>
<rect x="257.0" y="1738.1" width="9.4" height="9.4" fill="#f00d0d"/>
<rect x="294.0" y="1702.2" width="9.4" height="9.4" fill="#f00d0d"/>
<rect x="331.0" y="1670.8" width="9.4" height="9.4" fill="#f00d0d"/>
<rect x="368.0" y="1656.1" width="9.4" height="9.4" fill="#f00d0d"/>
<rect x="405.0" y="1641.4" width="9.4" height="9.4" fill="#f00d0d"/>
<rect x="442.0" y="1631.6" width="9.4" height="9.4" fill="#f00d0d"/>
<rect x="479.0" y="1621.4" width="9.4" height="9.4" fill="#f00d0d"/>
<rect x="516.0" y="1617.8" width="9.4" height="9.4" fill="#f00d0d"/>
<rect x="553.0" y="1608.8" width="9.4" height="9.4" fill="#f00d0d"/>
<rect x="590.0" y="1608.0" width="9.4" height="9.4" fill="#f00d0d"/>
<line x1="113.7" y1="1865.2" x2="113.7" y2="1863.9" stroke="#2626a0" stroke-width="1.4" />
<line x1="108.2" y1="1863.9" x2="119.2" y2="1863.9" stroke="#3a40cc" stroke-width="1.8" />
<line x1="150.7" y1="1831.3" x2="150.7" y2="1824.8" stroke="#2626a0" stroke-width="1.4" />
<line x1="145.2" y1="1824.8" x2="156.2" y2="1824.8" stroke="#3a40cc" stroke-width="1.8" />
<line x1="187.7" y1="1805.2" x2="187.7" y2="1797.9" stroke="#2626a0" stroke-width="1.4" />
<line x1="182.2" y1="1797.9" x2="193.2" y2="1797.9" stroke="#3a40cc" stroke-width="1.8" />
<line x1="224.7" y1="1777.9" x2="224.7" y2="1766.0" stroke="#2626a0" stroke-width="1.4" />
<line x1="219.2" y1="1766.0" x2="230.2" y2="1766.0" stroke="#3a40cc" stroke-width="1.8" />
<line x1="261.7" y1="1744.0" x2="261.7" y2="1731.0" stroke="#2626a0" stroke-width="1.4" />
<line x1="256.2" y1="1731.0" x2="267.2" y2="1731.0" stroke="#3a40cc" stroke-width="1.8" />
<line x1="298.7" y1="1714.6" x2="298.7" y2="1693.8" stroke="#2626a0" stroke-width="1.4" />
<line x1="293.2" y1="1693.8" x2="304.2" y2="1693.8" stroke="#3a40cc" stroke-width="1.8" />
<line x1="335.7" y1="1688.5" x2="335.7" y2="1667.3" stroke="#2626a0" stroke-width="1.4" />
<line x1="330.2" y1="1667.3" x2="341.2" y2="1667.3" stroke="#3a40cc" stroke-width="1.8" />
<line x1="372.7" y1="1666.5" x2="372.7" y2="1645.3" stroke="#2626a0" stroke-width="1.4" />
<line x1="367.2" y1="1645.3" x2="378.2" y2="1645.3" stroke="#3a40cc" stroke-width="1.8" />
<line x1="409.7" y1="1655.9" x2="409.7" y2="1634.3" stroke="#2626a0" stroke-width="1.4" />
<line x1="404.2" y1="1634.3" x2="415.2" y2="1634.3" stroke="#3a40cc" stroke-width="1.8" />
<line x1="446.7" y1="1651.0" x2="446.7" y2="1629.8" stroke="#2626a0" stroke-width="1.4" />
<line x1="441.2" y1="1629.8" x2="452.2" y2="1629.8" stroke="#3a40cc" stroke-width="1.8" />
<line x1="483.7" y1="1643.7" x2="483.7" y2="1622.5" stroke="#2626a0" stroke-width="1.4" />
<line x1="478.2" y1="1622.5" x2="489.2" y2="1622.5" stroke="#3a40cc" stroke-width="1.8" />
<line x1="520.7" y1="1638.8" x2="520.7" y2="1617.6" stroke="#2626a0" stroke-width="1.4" />
<line x1="515.2" y1="1617.6" x2="526.2" y2="1617.6" stroke="#3a40cc" stroke-width="1.8" />
<line x1="557.7" y1="1634.3" x2="557.7" y2="1633.1" stroke="#2626a0" stroke-width="1.4" />
<line x1="552.2" y1="1633.1" x2="563.2" y2="1633.1" stroke="#3a40cc" stroke-width="1.8" />
<line x1="594.7" y1="1633.5" x2="594.7" y2="1631.4" stroke="#2626a0" stroke-width="1.4" />
<line x1="589.2" y1="1631.4" x2="600.2" y2="1631.4" stroke="#3a40cc" stroke-width="1.8" />
<polyline points="113.7,1865.2 150.7,1831.3 187.7,1805.2 224.7,1777.9 261.7,1744.0 298.7,1714.6 335.7,1688.5 372.7,1666.5 409.7,1655.9 446.7,1651.0 483.7,1643.7 520.7,1638.8 557.7,1634.3 594.7,1633.5" fill="none" stroke="#0a0af5" stroke-width="3.6" stroke-linejoin="round"/>
<circle cx="113.7" cy="1865.2" r="4.9" fill="#0a0af5"/>
<circle cx="150.7" cy="1831.3" r="4.9" fill="#0a0af5"/>
<circle cx="187.7" cy="1805.2" r="4.9" fill="#0a0af5"/>
<circle cx="224.7" cy="1777.9" r="4.9" fill="#0a0af5"/>
<circle cx="261.7" cy="1744.0" r="4.9" fill="#0a0af5"/>
<circle cx="298.7" cy="1714.6" r="4.9" fill="#0a0af5"/>
<circle cx="335.7" cy="1688.5" r="4.9" fill="#0a0af5"/>
<circle cx="372.7" cy="1666.5" r="4.9" fill="#0a0af5"/>
<circle cx="409.7" cy="1655.9" r="4.9" fill="#0a0af5"/>
<circle cx="446.7" cy="1651.0" r="4.9" fill="#0a0af5"/>
<circle cx="483.7" cy="1643.7" r="4.9" fill="#0a0af5"/>
<circle cx="520.7" cy="1638.8" r="4.9" fill="#0a0af5"/>
<circle cx="557.7" cy="1634.3" r="4.9" fill="#0a0af5"/>
<circle cx="594.7" cy="1633.5" r="4.9" fill="#0a0af5"/>
<text x="446.7" y="1610.7" font-size="19" font-weight="normal" text-anchor="middle" fill="#111" font-family="'Liberation Serif', 'Times New Roman', serif" >#</text>
<text x="483.7" y="1599.7" font-size="19" font-weight="normal" text-anchor="middle" fill="#111" font-family="'Liberation Serif', 'Times New Roman', serif" >#</text>
<text x="520.7" y="1594.8" font-size="19" font-weight="normal" text-anchor="middle" fill="#111" font-family="'Liberation Serif', 'Times New Roman', serif" >#</text>
<text x="557.7" y="1586.7" font-size="19" font-weight="normal" text-anchor="middle" fill="#111" font-family="'Liberation Serif', 'Times New Roman', serif" >##</text>
<text x="594.7" y="1585.8" font-size="19" font-weight="normal" text-anchor="middle" fill="#111" font-family="'Liberation Serif', 'Times New Roman', serif" >##</text>
<line x1="744.4" y1="1548.8" x2="744.4" y2="1880.3" stroke="#000" stroke-width="2.8" />
<line x1="730.0" y1="1878.9" x2="1247.0" y2="1878.9" stroke="#000" stroke-width="2.8" />
<line x1="730.4" y1="1878.9" x2="744.4" y2="1878.9" stroke="#000" stroke-width="2.8" />
<text x="728.0" y="1887.1" font-size="21" font-weight="normal" text-anchor="end" fill="#000" font-family="'Liberation Sans', Arial, sans-serif" >0</text>
<line x1="730.4" y1="1832.0" x2="744.4" y2="1832.0" stroke="#000" stroke-width="2.8" />
<text x="728.0" y="1840.2" font-size="21" font-weight="normal" text-anchor="end" fill="#000" font-family="'Liberation Sans', Arial, sans-serif" >5</text>
<line x1="730.4" y1="1785.0" x2="744.4" y2="1785.0" stroke="#000" stroke-width="2.8" />
<text x="728.0" y="1793.2" font-size="21" font-weight="normal" text-anchor="end" fill="#000" font-family="'Liberation Sans', Arial, sans-serif" >10</text>
<line x1="730.4" y1="1738.1" x2="744.4" y2="1738.1" stroke="#000" stroke-width="2.8" />
<text x="728.0" y="1746.3" font-size="21" font-weight="normal" text-anchor="end" fill="#000" font-family="'Liberation Sans', Arial, sans-serif" >15</text>
<line x1="730.4" y1="1691.2" x2="744.4" y2="1691.2" stroke="#000" stroke-width="2.8" />
<text x="728.0" y="1699.4" font-size="21" font-weight="normal" text-anchor="end" fill="#000" font-family="'Liberation Sans', Arial, sans-serif" >20</text>
<line x1="730.4" y1="1644.2" x2="744.4" y2="1644.2" stroke="#000" stroke-width="2.8" />
<text x="728.0" y="1652.5" font-size="21" font-weight="normal" text-anchor="end" fill="#000" font-family="'Liberation Sans', Arial, sans-serif" >25</text>
<line x1="730.4" y1="1597.3" x2="744.4" y2="1597.3" stroke="#000" stroke-width="2.8" />
<text x="728.0" y="1605.5" font-size="21" font-weight="normal" text-anchor="end" fill="#000" font-family="'Liberation Sans', Arial, sans-serif" >30</text>
<line x1="730.4" y1="1550.4" x2="744.4" y2="1550.4" stroke="#000" stroke-width="2.8" />
<text x="728.0" y="1558.6" font-size="21" font-weight="normal" text-anchor="end" fill="#000" font-family="'Liberation Sans', Arial, sans-serif" >35</text>
<line x1="762.5" y1="1878.9" x2="762.5" y2="1890.0" stroke="#000" stroke-width="2.8" />
<text x="762.5" y="1910.2" font-size="21" font-weight="normal" text-anchor="middle" fill="#000" font-family="'Liberation Sans', Arial, sans-serif" >0</text>
<line x1="799.6" y1="1878.9" x2="799.6" y2="1890.0" stroke="#000" stroke-width="2.8" />
<text x="799.6" y="1910.2" font-size="21" font-weight="normal" text-anchor="middle" fill="#000" font-family="'Liberation Sans', Arial, sans-serif" >1</text>
<line x1="836.8" y1="1878.9" x2="836.8" y2="1890.0" stroke="#000" stroke-width="2.8" />
<text x="836.8" y="1910.2" font-size="21" font-weight="normal" text-anchor="middle" fill="#000" font-family="'Liberation Sans', Arial, sans-serif" >2</text>
<line x1="873.9" y1="1878.9" x2="873.9" y2="1890.0" stroke="#000" stroke-width="2.8" />
<text x="873.9" y="1910.2" font-size="21" font-weight="normal" text-anchor="middle" fill="#000" font-family="'Liberation Sans', Arial, sans-serif" >3</text>
<line x1="911.0" y1="1878.9" x2="911.0" y2="1890.0" stroke="#000" stroke-width="2.8" />
<text x="911.0" y="1910.2" font-size="21" font-weight="normal" text-anchor="middle" fill="#000" font-family="'Liberation Sans', Arial, sans-serif" >4</text>
<line x1="948.1" y1="1878.9" x2="948.1" y2="1890.0" stroke="#000" stroke-width="2.8" />
<text x="948.1" y="1910.2" font-size="21" font-weight="normal" text-anchor="middle" fill="#000" font-family="'Liberation Sans', Arial, sans-serif" >5</text>
<line x1="985.3" y1="1878.9" x2="985.3" y2="1890.0" stroke="#000" stroke-width="2.8" />
<text x="985.3" y="1910.2" font-size="21" font-weight="normal" text-anchor="middle" fill="#000" font-family="'Liberation Sans', Arial, sans-serif" >6</text>
<line x1="1022.4" y1="1878.9" x2="1022.4" y2="1890.0" stroke="#000" stroke-width="2.8" />
<text x="1022.4" y="1910.2" font-size="21" font-weight="normal" text-anchor="middle" fill="#000" font-family="'Liberation Sans', Arial, sans-serif" >7</text>
<line x1="1059.5" y1="1878.9" x2="1059.5" y2="1890.0" stroke="#000" stroke-width="2.8" />
<text x="1059.5" y="1910.2" font-size="21" font-weight="normal" text-anchor="middle" fill="#000" font-family="'Liberation Sans', Arial, sans-serif" >8</text>
<line x1="1096.7" y1="1878.9" x2="1096.7" y2="1890.0" stroke="#000" stroke-width="2.8" />
<text x="1096.7" y="1910.2" font-size="21" font-weight="normal" text-anchor="middle" fill="#000" font-family="'Liberation Sans', Arial, sans-serif" >9</text>
<line x1="1133.8" y1="1878.9" x2="1133.8" y2="1890.0" stroke="#000" stroke-width="2.8" />
<text x="1133.8" y="1910.2" font-size="21" font-weight="normal" text-anchor="middle" fill="#000" font-family="'Liberation Sans', Arial, sans-serif" >10</text>
<line x1="1170.9" y1="1878.9" x2="1170.9" y2="1890.0" stroke="#000" stroke-width="2.8" />
<text x="1170.9" y="1910.2" font-size="21" font-weight="normal" text-anchor="middle" fill="#000" font-family="'Liberation Sans', Arial, sans-serif" >11</text>
<line x1="1208.1" y1="1878.9" x2="1208.1" y2="1890.0" stroke="#000" stroke-width="2.8" />
<text x="1208.1" y="1910.2" font-size="21" font-weight="normal" text-anchor="middle" fill="#000" font-family="'Liberation Sans', Arial, sans-serif" >12</text>
<line x1="1245.2" y1="1878.9" x2="1245.2" y2="1890.0" stroke="#000" stroke-width="2.8" />
<text x="1245.2" y="1910.2" font-size="21" font-weight="normal" text-anchor="middle" fill="#000" font-family="'Liberation Sans', Arial, sans-serif" >13</text>
<text x="990.6" y="1935.8" font-size="24" font-weight="bold" text-anchor="middle" fill="#000" font-family="'Liberation Sans', Arial, sans-serif" >Age (weeks)</text>
<text x="685.5" y="1703.5" font-size="24" font-weight="bold" text-anchor="middle" fill="#000" font-family="'Liberation Sans', Arial, sans-serif" transform="rotate(-90 685.5 1703.5)" textLength="168.7" lengthAdjust="spacingAndGlyphs">Bodyweight (g)</text>
<line x1="821.1" y1="1528.8" x2="861.6" y2="1528.8" stroke="#0a0af5" stroke-width="1.6" />
<circle cx="841.4" cy="1528.8" r="7.6" fill="#0a0af5"/>
<text x="865.9" y="1538.8" font-size="24.5" font-weight="normal" text-anchor="start" fill="#000" font-family="'Liberation Sans', Arial, sans-serif" >F9-Con</text>
<line x1="1001.0" y1="1528.8" x2="1039.7" y2="1528.8" stroke="#f00d0d" stroke-width="1.6" />
<rect x="1012.6" y="1521.0" width="15.5" height="15.5" fill="#f00d0d"/>
<text x="1052.2" y="1538.8" font-size="24.5" font-weight="normal" text-anchor="start" fill="#000" font-family="'Liberation Sans', Arial, sans-serif" >F9-HFD</text>
<line x1="762.5" y1="1869.0" x2="762.5" y2="1867.6" stroke="#e03030" stroke-width="1.4" />
<line x1="757.0" y1="1867.6" x2="768.0" y2="1867.6" stroke="#e84545" stroke-width="1.8" />
<line x1="799.6" y1="1832.9" x2="799.6" y2="1829.2" stroke="#e03030" stroke-width="1.4" />
<line x1="794.1" y1="1829.2" x2="805.1" y2="1829.2" stroke="#e84545" stroke-width="1.8" />
<line x1="836.8" y1="1801.5" x2="836.8" y2="1795.4" stroke="#e03030" stroke-width="1.4" />
<line x1="831.3" y1="1795.4" x2="842.3" y2="1795.4" stroke="#e84545" stroke-width="1.8" />
<line x1="873.9" y1="1789.7" x2="873.9" y2="1785.0" stroke="#e03030" stroke-width="1.4" />
<line x1="868.4" y1="1785.0" x2="879.4" y2="1785.0" stroke="#e84545" stroke-width="1.8" />
<line x1="911.0" y1="1718.4" x2="911.0" y2="1704.8" stroke="#e03030" stroke-width="1.4" />
<line x1="905.5" y1="1704.8" x2="916.5" y2="1704.8" stroke="#e84545" stroke-width="1.8" />
<line x1="948.1" y1="1680.9" x2="948.1" y2="1666.8" stroke="#e03030" stroke-width="1.4" />
<line x1="942.6" y1="1666.8" x2="953.6" y2="1666.8" stroke="#e84545" stroke-width="1.8" />
<line x1="985.3" y1="1674.3" x2="985.3" y2="1655.5" stroke="#e03030" stroke-width="1.4" />
<line x1="979.8" y1="1655.5" x2="990.8" y2="1655.5" stroke="#e84545" stroke-width="1.8" />
<line x1="1022.4" y1="1651.8" x2="1022.4" y2="1639.1" stroke="#e03030" stroke-width="1.4" />
<line x1="1016.9" y1="1639.1" x2="1027.9" y2="1639.1" stroke="#e84545" stroke-width="1.8" />
<line x1="1059.5" y1="1628.8" x2="1059.5" y2="1617.0" stroke="#e03030" stroke-width="1.4" />
<line x1="1054.0" y1="1617.0" x2="1065.0" y2="1617.0" stroke="#e84545" stroke-width="1.8" />
<line x1="1096.7" y1="1622.7" x2="1096.7" y2="1608.6" stroke="#e03030" stroke-width="1.4" />
<line x1="1091.2" y1="1608.6" x2="1102.2" y2="1608.6" stroke="#e84545" stroke-width="1.8" />
<line x1="1133.8" y1="1611.4" x2="1133.8" y2="1594.5" stroke="#e03030" stroke-width="1.4" />
<line x1="1128.3" y1="1594.5" x2="1139.3" y2="1594.5" stroke="#e84545" stroke-width="1.8" />
<line x1="1170.9" y1="1601.1" x2="1170.9" y2="1585.6" stroke="#e03030" stroke-width="1.4" />
<line x1="1165.4" y1="1585.6" x2="1176.4" y2="1585.6" stroke="#e84545" stroke-width="1.8" />
<line x1="1208.1" y1="1592.2" x2="1208.1" y2="1572.9" stroke="#e03030" stroke-width="1.4" />
<line x1="1202.6" y1="1572.9" x2="1213.6" y2="1572.9" stroke="#e84545" stroke-width="1.8" />
<line x1="1245.2" y1="1588.4" x2="1245.2" y2="1567.8" stroke="#e03030" stroke-width="1.4" />
<line x1="1239.7" y1="1567.8" x2="1250.7" y2="1567.8" stroke="#e84545" stroke-width="1.8" />
<polyline points="762.5,1869.0 799.6,1832.9 836.8,1801.5 873.9,1789.7 911.0,1718.4 948.1,1680.9 985.3,1674.3 1022.4,1651.8 1059.5,1628.8 1096.7,1622.7 1133.8,1611.4 1170.9,1601.1 1208.1,1592.2 1245.2,1588.4" fill="none" stroke="#f00d0d" stroke-width="3.6" stroke-linejoin="round"/>
<rect x="757.8" y="1864.3" width="9.4" height="9.4" fill="#f00d0d"/>
<rect x="794.9" y="1828.2" width="9.4" height="9.4" fill="#f00d0d"/>
<rect x="832.1" y="1796.8" width="9.4" height="9.4" fill="#f00d0d"/>
<rect x="869.2" y="1785.0" width="9.4" height="9.4" fill="#f00d0d"/>
<rect x="906.3" y="1713.7" width="9.4" height="9.4" fill="#f00d0d"/>
<rect x="943.4" y="1676.2" width="9.4" height="9.4" fill="#f00d0d"/>
<rect x="980.6" y="1669.6" width="9.4" height="9.4" fill="#f00d0d"/>
<rect x="1017.7" y="1647.1" width="9.4" height="9.4" fill="#f00d0d"/>
<rect x="1054.8" y="1624.1" width="9.4" height="9.4" fill="#f00d0d"/>
<rect x="1092.0" y="1618.0" width="9.4" height="9.4" fill="#f00d0d"/>
<rect x="1129.1" y="1606.7" width="9.4" height="9.4" fill="#f00d0d"/>
<rect x="1166.2" y="1596.4" width="9.4" height="9.4" fill="#f00d0d"/>
<rect x="1203.4" y="1587.5" width="9.4" height="9.4" fill="#f00d0d"/>
<rect x="1240.5" y="1583.7" width="9.4" height="9.4" fill="#f00d0d"/>
<line x1="762.5" y1="1865.8" x2="762.5" y2="1863.9" stroke="#2626a0" stroke-width="1.4" />
<line x1="757.0" y1="1863.9" x2="768.0" y2="1863.9" stroke="#3a40cc" stroke-width="1.8" />
<line x1="799.6" y1="1830.1" x2="799.6" y2="1825.4" stroke="#2626a0" stroke-width="1.4" />
<line x1="794.1" y1="1825.4" x2="805.1" y2="1825.4" stroke="#3a40cc" stroke-width="1.8" />
<line x1="836.8" y1="1811.8" x2="836.8" y2="1808.5" stroke="#2626a0" stroke-width="1.4" />
<line x1="831.3" y1="1808.5" x2="842.3" y2="1808.5" stroke="#3a40cc" stroke-width="1.8" />
<line x1="873.9" y1="1785.0" x2="873.9" y2="1776.6" stroke="#2626a0" stroke-width="1.4" />
<line x1="868.4" y1="1776.6" x2="879.4" y2="1776.6" stroke="#3a40cc" stroke-width="1.8" />
<line x1="911.0" y1="1733.4" x2="911.0" y2="1720.3" stroke="#2626a0" stroke-width="1.4" />
<line x1="905.5" y1="1720.3" x2="916.5" y2="1720.3" stroke="#3a40cc" stroke-width="1.8" />
<line x1="948.1" y1="1697.8" x2="948.1" y2="1681.8" stroke="#2626a0" stroke-width="1.4" />
<line x1="942.6" y1="1681.8" x2="953.6" y2="1681.8" stroke="#3a40cc" stroke-width="1.8" />
<line x1="985.3" y1="1680.4" x2="985.3" y2="1659.3" stroke="#2626a0" stroke-width="1.4" />
<line x1="979.8" y1="1659.3" x2="990.8" y2="1659.3" stroke="#3a40cc" stroke-width="1.8" />
<line x1="1022.4" y1="1662.1" x2="1022.4" y2="1639.1" stroke="#2626a0" stroke-width="1.4" />
<line x1="1016.9" y1="1639.1" x2="1027.9" y2="1639.1" stroke="#3a40cc" stroke-width="1.8" />
<line x1="1059.5" y1="1647.1" x2="1059.5" y2="1622.7" stroke="#2626a0" stroke-width="1.4" />
<line x1="1054.0" y1="1622.7" x2="1065.0" y2="1622.7" stroke="#3a40cc" stroke-width="1.8" />
<line x1="1096.7" y1="1638.6" x2="1096.7" y2="1617.0" stroke="#2626a0" stroke-width="1.4" />
<line x1="1091.2" y1="1617.0" x2="1102.2" y2="1617.0" stroke="#3a40cc" stroke-width="1.8" />
<line x1="1133.8" y1="1631.6" x2="1133.8" y2="1612.3" stroke="#2626a0" stroke-width="1.4" />
<line x1="1128.3" y1="1612.3" x2="1139.3" y2="1612.3" stroke="#3a40cc" stroke-width="1.8" />
<line x1="1170.9" y1="1625.0" x2="1170.9" y2="1602.0" stroke="#2626a0" stroke-width="1.4" />
<line x1="1165.4" y1="1602.0" x2="1176.4" y2="1602.0" stroke="#3a40cc" stroke-width="1.8" />
<line x1="1208.1" y1="1615.2" x2="1208.1" y2="1593.6" stroke="#2626a0" stroke-width="1.4" />
<line x1="1202.6" y1="1593.6" x2="1213.6" y2="1593.6" stroke="#3a40cc" stroke-width="1.8" />
<line x1="1245.2" y1="1607.6" x2="1245.2" y2="1589.8" stroke="#2626a0" stroke-width="1.4" />
<line x1="1239.7" y1="1589.8" x2="1250.7" y2="1589.8" stroke="#3a40cc" stroke-width="1.8" />
<polyline points="762.5,1865.8 799.6,1830.1 836.8,1811.8 873.9,1785.0 911.0,1733.4 948.1,1697.8 985.3,1680.4 1022.4,1662.1 1059.5,1647.1 1096.7,1638.6 1133.8,1631.6 1170.9,1625.0 1208.1,1615.2 1245.2,1607.6" fill="none" stroke="#0a0af5" stroke-width="3.6" stroke-linejoin="round"/>
<circle cx="762.5" cy="1865.8" r="4.9" fill="#0a0af5"/>
<circle cx="799.6" cy="1830.1" r="4.9" fill="#0a0af5"/>
<circle cx="836.8" cy="1811.8" r="4.9" fill="#0a0af5"/>
<circle cx="873.9" cy="1785.0" r="4.9" fill="#0a0af5"/>
<circle cx="911.0" cy="1733.4" r="4.9" fill="#0a0af5"/>
<circle cx="948.1" cy="1697.8" r="4.9" fill="#0a0af5"/>
<circle cx="985.3" cy="1680.4" r="4.9" fill="#0a0af5"/>
<circle cx="1022.4" cy="1662.1" r="4.9" fill="#0a0af5"/>
<circle cx="1059.5" cy="1647.1" r="4.9" fill="#0a0af5"/>
<circle cx="1096.7" cy="1638.6" r="4.9" fill="#0a0af5"/>
<circle cx="1133.8" cy="1631.6" r="4.9" fill="#0a0af5"/>
<circle cx="1170.9" cy="1625.0" r="4.9" fill="#0a0af5"/>
<circle cx="1208.1" cy="1615.2" r="4.9" fill="#0a0af5"/>
<circle cx="1245.2" cy="1607.6" r="4.9" fill="#0a0af5"/>
<text x="911.0" y="1700.8" font-size="19" font-weight="normal" text-anchor="middle" fill="#111" font-family="'Liberation Serif', 'Times New Roman', serif" >#</text>
<text x="948.1" y="1662.8" font-size="19" font-weight="normal" text-anchor="middle" fill="#111" font-family="'Liberation Serif', 'Times New Roman', serif" >#</text>
<text x="1059.5" y="1613.0" font-size="19" font-weight="normal" text-anchor="middle" fill="#111" font-family="'Liberation Serif', 'Times New Roman', serif" >#</text>
<text x="1096.7" y="1604.6" font-size="19" font-weight="normal" text-anchor="middle" fill="#111" font-family="'Liberation Serif', 'Times New Roman', serif" >#</text>
<text x="1133.8" y="1590.5" font-size="19" font-weight="normal" text-anchor="middle" fill="#111" font-family="'Liberation Serif', 'Times New Roman', serif" >##</text>
<text x="1170.9" y="1581.6" font-size="19" font-weight="normal" text-anchor="middle" fill="#111" font-family="'Liberation Serif', 'Times New Roman', serif" >##</text>
<text x="1208.1" y="1568.9" font-size="19" font-weight="normal" text-anchor="middle" fill="#111" font-family="'Liberation Serif', 'Times New Roman', serif" >##</text>
<text x="1245.2" y="1563.8" font-size="19" font-weight="normal" text-anchor="middle" fill="#111" font-family="'Liberation Serif', 'Times New Roman', serif" >##</text>
<text x="56.0" y="2063.5" font-size="41.5" font-weight="bold" text-anchor="start" fill="#000" font-family="'Liberation Sans', Arial, sans-serif" >H</text>
<text x="670.0" y="2063.0" font-size="41.5" font-weight="bold" text-anchor="start" fill="#000" font-family="'Liberation Sans', Arial, sans-serif" >I</text>
<text x="1156.0" y="2063.1" font-size="41.5" font-weight="bold" text-anchor="start" fill="#000" font-family="'Liberation Sans', Arial, sans-serif" >J</text>
<rect x="158.0" y="2290.9" width="40.5" height="159.0" fill="#0000fa"/>
<line x1="178.2" y1="2290.9" x2="178.2" y2="2255.9" stroke="#111" stroke-width="1.6" />
<line x1="168.8" y1="2255.9" x2="187.8" y2="2255.9" stroke="#111" stroke-width="1.8" />
<rect x="217.7" y="2224.4" width="40.6" height="225.5" fill="#fa0000"/>
<line x1="238.0" y1="2224.4" x2="238.0" y2="2186.4" stroke="#111" stroke-width="1.6" />
<line x1="228.5" y1="2186.4" x2="247.5" y2="2186.4" stroke="#111" stroke-width="1.8" />
<rect x="316.6" y="2272.9" width="40.6" height="177.0" fill="#0000fa"/>
<line x1="336.9" y1="2272.9" x2="336.9" y2="2247.4" stroke="#111" stroke-width="1.6" />
<line x1="327.4" y1="2247.4" x2="346.4" y2="2247.4" stroke="#111" stroke-width="1.8" />
<rect x="376.4" y="2251.4" width="40.6" height="198.5" fill="#fa0000"/>
<line x1="396.7" y1="2251.4" x2="396.7" y2="2227.4" stroke="#111" stroke-width="1.6" />
<line x1="387.2" y1="2227.4" x2="406.2" y2="2227.4" stroke="#111" stroke-width="1.8" />
<line x1="138.4" y1="2149.0" x2="138.4" y2="2451.3" stroke="#000" stroke-width="2.8" />
<line x1="125.5" y1="2449.9" x2="439.2" y2="2449.9" stroke="#000" stroke-width="2.8" />
<line x1="125.4" y1="2449.9" x2="138.4" y2="2449.9" stroke="#000" stroke-width="2.8" />
<text x="121.0" y="2458.5" font-size="21" font-weight="normal" text-anchor="end" fill="#000" font-family="'Liberation Sans', Arial, sans-serif" >0</text>
<line x1="125.4" y1="2349.9" x2="138.4" y2="2349.9" stroke="#000" stroke-width="2.8" />
<text x="121.0" y="2358.5" font-size="21" font-weight="normal" text-anchor="end" fill="#000" font-family="'Liberation Sans', Arial, sans-serif" >2</text>
<line x1="125.4" y1="2249.9" x2="138.4" y2="2249.9" stroke="#000" stroke-width="2.8" />
<text x="121.0" y="2258.5" font-size="21" font-weight="normal" text-anchor="end" fill="#000" font-family="'Liberation Sans', Arial, sans-serif" >4</text>
<line x1="125.4" y1="2149.9" x2="138.4" y2="2149.9" stroke="#000" stroke-width="2.8" />
<text x="121.0" y="2158.5" font-size="21" font-weight="normal" text-anchor="end" fill="#000" font-family="'Liberation Sans', Arial, sans-serif" >6</text>
<line x1="208.5" y1="2449.9" x2="208.5" y2="2462.9" stroke="#000" stroke-width="2.8" />
<text x="210.5" y="2492.0" font-size="28" font-weight="bold" text-anchor="middle" fill="#000" font-family="'Liberation Sans', Arial, sans-serif" >F0</text>
<line x1="367.2" y1="2449.9" x2="367.2" y2="2462.9" stroke="#000" stroke-width="2.8" />
<text x="369.2" y="2492.0" font-size="28" font-weight="bold" text-anchor="middle" fill="#000" font-family="'Liberation Sans', Arial, sans-serif" >F9</text>
<text x="77.2" y="2280.0" font-size="23" font-weight="bold" text-anchor="middle" fill="#000" font-family="'Liberation Sans', Arial, sans-serif" transform="rotate(-90 77.2 2280)" textLength="169" lengthAdjust="spacingAndGlyphs">Liver index (%)</text>
<rect x="168.8" y="2109.3" width="33.3" height="16.4" fill="#0000fa"/>
<rect x="317.2" y="2109.3" width="32.8" height="16.4" fill="#fa0000"/>
<text x="219.5" y="2127.3" font-size="25.5" font-weight="normal" text-anchor="start" fill="#000" font-family="'Liberation Sans', Arial, sans-serif" >Con</text>
<text x="368.3" y="2127.3" font-size="25.5" font-weight="normal" text-anchor="start" fill="#000" font-family="'Liberation Sans', Arial, sans-serif" >HFD</text>
<text x="238.0" y="2182.5" font-size="20" font-weight="normal" text-anchor="middle" fill="#111" font-family="'Liberation Serif', 'Times New Roman', serif" >##</text>
<text x="397.0" y="2223.5" font-size="20" font-weight="normal" text-anchor="middle" fill="#111" font-family="'Liberation Serif', 'Times New Roman', serif" >#</text>
<rect x="765.8" y="2290.0" width="41.0" height="156.5" fill="#0000fa"/>
<line x1="786.3" y1="2290.0" x2="786.3" y2="2267.2" stroke="#111" stroke-width="1.6" />
<line x1="776.8" y1="2267.2" x2="795.8" y2="2267.2" stroke="#111" stroke-width="1.8" />
<rect x="826.0" y="2211.8" width="40.7" height="234.7" fill="#fa0000"/>
<line x1="846.4" y1="2211.8" x2="846.4" y2="2160.6" stroke="#111" stroke-width="1.6" />
<line x1="836.9" y1="2160.6" x2="855.9" y2="2160.6" stroke="#111" stroke-width="1.8" />
<rect x="926.0" y="2288.2" width="41.0" height="158.3" fill="#0000fa"/>
<line x1="946.5" y1="2288.2" x2="946.5" y2="2229.9" stroke="#111" stroke-width="1.6" />
<line x1="937.0" y1="2229.9" x2="956.0" y2="2229.9" stroke="#111" stroke-width="1.8" />
<rect x="986.0" y="2249.1" width="41.0" height="197.4" fill="#fa0000"/>
<line x1="1006.5" y1="2249.1" x2="1006.5" y2="2189.5" stroke="#111" stroke-width="1.6" />
<line x1="997.0" y1="2189.5" x2="1016.0" y2="2189.5" stroke="#111" stroke-width="1.8" />
<line x1="746.8" y1="2145.0" x2="746.8" y2="2447.9" stroke="#000" stroke-width="2.8" />
<line x1="733.0" y1="2446.5" x2="1048.4" y2="2446.5" stroke="#000" stroke-width="2.8" />
<line x1="733.8" y1="2446.5" x2="746.8" y2="2446.5" stroke="#000" stroke-width="2.8" />
<text x="728.8" y="2455.1" font-size="21" font-weight="normal" text-anchor="end" fill="#000" font-family="'Liberation Sans', Arial, sans-serif" >0</text>
<line x1="733.8" y1="2386.3" x2="746.8" y2="2386.3" stroke="#000" stroke-width="2.8" />
<text x="728.8" y="2394.9" font-size="21" font-weight="normal" text-anchor="end" fill="#000" font-family="'Liberation Sans', Arial, sans-serif" >1</text>
<line x1="733.8" y1="2326.1" x2="746.8" y2="2326.1" stroke="#000" stroke-width="2.8" />
<text x="728.8" y="2334.7" font-size="21" font-weight="normal" text-anchor="end" fill="#000" font-family="'Liberation Sans', Arial, sans-serif" >2</text>
<line x1="733.8" y1="2266.0" x2="746.8" y2="2266.0" stroke="#000" stroke-width="2.8" />
<text x="728.8" y="2274.6" font-size="21" font-weight="normal" text-anchor="end" fill="#000" font-family="'Liberation Sans', Arial, sans-serif" >3</text>
<line x1="733.8" y1="2205.8" x2="746.8" y2="2205.8" stroke="#000" stroke-width="2.8" />
<text x="728.8" y="2214.4" font-size="21" font-weight="normal" text-anchor="end" fill="#000" font-family="'Liberation Sans', Arial, sans-serif" >4</text>
<line x1="733.8" y1="2145.6" x2="746.8" y2="2145.6" stroke="#000" stroke-width="2.8" />
<text x="728.8" y="2154.2" font-size="21" font-weight="normal" text-anchor="end" fill="#000" font-family="'Liberation Sans', Arial, sans-serif" >5</text>
<line x1="816.5" y1="2446.5" x2="816.5" y2="2459.0" stroke="#000" stroke-width="2.8" />
<text x="819.0" y="2487.0" font-size="28" font-weight="bold" text-anchor="middle" fill="#000" font-family="'Liberation Sans', Arial, sans-serif" >F0</text>
<line x1="976.5" y1="2446.5" x2="976.5" y2="2459.0" stroke="#000" stroke-width="2.8" />
<text x="979.0" y="2487.0" font-size="28" font-weight="bold" text-anchor="middle" fill="#000" font-family="'Liberation Sans', Arial, sans-serif" >F9</text>
<text x="692.3" y="2289.0" font-size="23.5" font-weight="bold" text-anchor="middle" fill="#000" font-family="'Liberation Sans', Arial, sans-serif" transform="rotate(-90 692.3 2289)">Abdominal fat pad index (%)</text>
<rect x="780.9" y="2110" width="33.1" height="15.7" fill="#0000fa"/>
<rect x="921.3" y="2110" width="32.5" height="15.7" fill="#fa0000"/>
<text x="830.8" y="2127.3" font-size="25.5" font-weight="normal" text-anchor="start" fill="#000" font-family="'Liberation Sans', Arial, sans-serif" >Con</text>
<text x="969.5" y="2127.3" font-size="25.5" font-weight="normal" text-anchor="start" fill="#000" font-family="'Liberation Sans', Arial, sans-serif" >HFD</text>
<text x="846.5" y="2158.0" font-size="20" font-weight="normal" text-anchor="middle" fill="#111" font-family="'Liberation Serif', 'Times New Roman', serif" >##</text>
<text x="1006.5" y="2187.0" font-size="20" font-weight="normal" text-anchor="middle" fill="#111" font-family="'Liberation Serif', 'Times New Roman', serif" >#</text>
<defs><radialGradient id="livD" cx="50%" cy="35%" r="65%"><stop offset="0" stop-color="#8a382c"/><stop offset="0.7" stop-color="#6e2920"/><stop offset="1" stop-color="#471510"/></radialGradient><radialGradient id="livL" cx="50%" cy="40%" r="65%"><stop offset="0" stop-color="#b06a44"/><stop offset="0.75" stop-color="#a05a38"/><stop offset="1" stop-color="#7a4026"/></radialGradient><radialGradient id="livL2" cx="50%" cy="40%" r="65%"><stop offset="0" stop-color="#c8845a"/><stop offset="0.75" stop-color="#b6724a"/><stop offset="1" stop-color="#8a5030"/></radialGradient><radialGradient id="livM" cx="50%" cy="40%" r="65%"><stop offset="0" stop-color="#a04a3a"/><stop offset="0.75" stop-color="#8a3c2e"/><stop offset="1" stop-color="#5e2218"/></radialGradient><radialGradient id="fatW" cx="45%" cy="40%" r="65%"><stop offset="0" stop-color="#f0e8e6"/><stop offset="0.7" stop-color="#e0d2d0"/><stop offset="1" stop-color="#b8a8aa"/></radialGradient><radialGradient id="fatC" cx="45%" cy="40%" r="65%"><stop offset="0" stop-color="#fbf4e6"/><stop offset="0.7" stop-color="#f3e4c8"/><stop offset="1" stop-color="#dcc2a0"/></radialGradient><radialGradient id="mouseG" cx="50%" cy="45%" r="60%"><stop offset="0" stop-color="#2a211c"/><stop offset="0.8" stop-color="#1f1814"/><stop offset="1" stop-color="#17110e"/></radialGradient></defs>
<rect x="1444.8" y="1509.4" width="359.7" height="90.7" fill="#0cb4d6"/>
<rect x="1444.8" y="1604.6" width="358" height="82.1" fill="#0788c0"/>
<rect x="1444.8" y="1692.4" width="359" height="84.4" fill="#36c2dd"/>
<rect x="1444.8" y="1782.3" width="358.2" height="91.8" fill="#10d9e6"/>
<line x1="1445" y1="1512.0" x2="1456" y2="1512.0" stroke="#cdf0f8" stroke-width="1.2"/>
<line x1="1445" y1="1517.9" x2="1452" y2="1517.9" stroke="#cdf0f8" stroke-width="1.2"/>
<line x1="1445" y1="1523.8" x2="1452" y2="1523.8" stroke="#cdf0f8" stroke-width="1.2"/>
<line x1="1445" y1="1529.7" x2="1452" y2="1529.7" stroke="#cdf0f8" stroke-width="1.2"/>
<line x1="1445" y1="1535.6" x2="1452" y2="1535.6" stroke="#cdf0f8" stroke-width="1.2"/>
<line x1="1445" y1="1541.5" x2="1456" y2="1541.5" stroke="#cdf0f8" stroke-width="1.2"/>
<line x1="1445" y1="1547.4" x2="1452" y2="1547.4" stroke="#cdf0f8" stroke-width="1.2"/>
<line x1="1445" y1="1553.3" x2="1452" y2="1553.3" stroke="#cdf0f8" stroke-width="1.2"/>
<line x1="1445" y1="1559.2" x2="1452" y2="1559.2" stroke="#cdf0f8" stroke-width="1.2"/>
<line x1="1445" y1="1565.1" x2="1452" y2="1565.1" stroke="#cdf0f8" stroke-width="1.2"/>
<line x1="1445" y1="1571.0" x2="1456" y2="1571.0" stroke="#cdf0f8" stroke-width="1.2"/>
<line x1="1445" y1="1576.9" x2="1452" y2="1576.9" stroke="#cdf0f8" stroke-width="1.2"/>
<line x1="1445" y1="1582.8" x2="1452" y2="1582.8" stroke="#cdf0f8" stroke-width="1.2"/>
<line x1="1445" y1="1588.7" x2="1452" y2="1588.7" stroke="#cdf0f8" stroke-width="1.2"/>
<line x1="1445" y1="1594.6" x2="1452" y2="1594.6" stroke="#cdf0f8" stroke-width="1.2"/>
<line x1="1445" y1="1785.5" x2="1471" y2="1785.5" stroke="#e6fbff" stroke-width="1.1"/>
<line x1="1445" y1="1789.5" x2="1466" y2="1789.5" stroke="#e6fbff" stroke-width="1.1"/>
<line x1="1445" y1="1793.5" x2="1466" y2="1793.5" stroke="#e6fbff" stroke-width="1.1"/>
<line x1="1445" y1="1797.5" x2="1466" y2="1797.5" stroke="#e6fbff" stroke-width="1.1"/>
<line x1="1445" y1="1801.5" x2="1466" y2="1801.5" stroke="#e6fbff" stroke-width="1.1"/>
<line x1="1445" y1="1805.5" x2="1471" y2="1805.5" stroke="#e6fbff" stroke-width="1.1"/>
<line x1="1445" y1="1809.5" x2="1466" y2="1809.5" stroke="#e6fbff" stroke-width="1.1"/>
<line x1="1445" y1="1813.5" x2="1466" y2="1813.5" stroke="#e6fbff" stroke-width="1.1"/>
<line x1="1445" y1="1817.5" x2="1466" y2="1817.5" stroke="#e6fbff" stroke-width="1.1"/>
<line x1="1445" y1="1821.5" x2="1466" y2="1821.5" stroke="#e6fbff" stroke-width="1.1"/>
<line x1="1445" y1="1825.5" x2="1471" y2="1825.5" stroke="#e6fbff" stroke-width="1.1"/>
<line x1="1445" y1="1829.5" x2="1466" y2="1829.5" stroke="#e6fbff" stroke-width="1.1"/>
<line x1="1445" y1="1833.5" x2="1466" y2="1833.5" stroke="#e6fbff" stroke-width="1.1"/>
<line x1="1445" y1="1837.5" x2="1466" y2="1837.5" stroke="#e6fbff" stroke-width="1.1"/>
<line x1="1445" y1="1841.5" x2="1466" y2="1841.5" stroke="#e6fbff" stroke-width="1.1"/>
<line x1="1445" y1="1845.5" x2="1471" y2="1845.5" stroke="#e6fbff" stroke-width="1.1"/>
<line x1="1445" y1="1849.5" x2="1466" y2="1849.5" stroke="#e6fbff" stroke-width="1.1"/>
<line x1="1445" y1="1853.5" x2="1466" y2="1853.5" stroke="#e6fbff" stroke-width="1.1"/>
<line x1="1445" y1="1857.5" x2="1466" y2="1857.5" stroke="#e6fbff" stroke-width="1.1"/>
<line x1="1445" y1="1861.5" x2="1466" y2="1861.5" stroke="#e6fbff" stroke-width="1.1"/>
<line x1="1445" y1="1865.5" x2="1471" y2="1865.5" stroke="#e6fbff" stroke-width="1.1"/>
<text x="1482" y="1787" font-size="9" fill="#e6fbff" font-family="'Liberation Sans', Arial, sans-serif" text-anchor="middle" transform="rotate(-90 1482 1787)">15</text>
<text x="1482" y="1826" font-size="9" fill="#e6fbff" font-family="'Liberation Sans', Arial, sans-serif" text-anchor="middle" transform="rotate(-90 1482 1826)">14</text>
<text x="1482" y="1864" font-size="9" fill="#e6fbff" font-family="'Liberation Sans', Arial, sans-serif" text-anchor="middle" transform="rotate(-90 1482 1864)">13</text>
<path d="M1484.0,1546.8 C1485.1,1543.1 1488.1,1541.7 1491.8,1540.2 C1495.5,1538.7 1503.8,1540.2 1506.0,1538.0 C1508.2,1535.8 1503.5,1529.9 1505.0,1527.0 C1506.5,1524.1 1510.7,1521.9 1514.9,1520.4 C1519.1,1518.9 1525.5,1517.7 1530.3,1518.2 C1535.1,1518.8 1539.5,1521.9 1543.5,1523.7 C1547.5,1525.5 1552.4,1525.7 1554.5,1529.2 C1556.6,1532.7 1557.0,1539.5 1556.3,1544.6 C1555.6,1549.7 1552.2,1556.0 1550.1,1560.0 C1548.0,1564.0 1545.7,1565.6 1543.5,1568.9 C1541.3,1572.2 1539.1,1576.6 1536.9,1579.9 C1534.7,1583.2 1532.5,1588.7 1530.3,1588.7 C1528.1,1588.7 1527.0,1581.7 1523.7,1579.9 C1520.4,1578.1 1515.3,1579.2 1510.5,1577.7 C1505.7,1576.2 1499.3,1573.7 1495.1,1571.1 C1490.9,1568.5 1487.0,1566.3 1485.2,1562.3 C1483.4,1558.2 1482.9,1550.5 1484.0,1546.8 Z" fill="url(#livD)" />
<path d="M1563.3,1568.9 C1562.9,1564.3 1567.2,1555.2 1567.8,1549.0 C1568.4,1542.8 1565.6,1535.4 1566.7,1531.4 C1567.8,1527.4 1570.6,1526.1 1574.4,1524.8 C1578.2,1523.5 1585.0,1523.0 1589.8,1523.7 C1594.6,1524.4 1599.0,1528.5 1603.0,1529.2 C1607.0,1529.9 1610.7,1527.0 1614.0,1528.1 C1617.3,1529.2 1622.1,1533.0 1622.8,1535.8 C1623.5,1538.5 1618.8,1540.6 1618.4,1544.6 C1618.0,1548.6 1621.7,1555.2 1620.6,1560.0 C1619.5,1564.8 1615.5,1569.8 1611.8,1573.3 C1608.1,1576.8 1603.4,1579.5 1598.6,1581.0 C1593.8,1582.5 1588.0,1582.8 1583.2,1582.1 C1578.4,1581.4 1573.3,1578.8 1570.0,1576.6 C1566.7,1574.4 1563.7,1573.5 1563.3,1568.9 Z" fill="url(#livD)" />
<path d="M1649.3,1571.1 C1648.0,1565.6 1649.7,1554.9 1650.4,1549.0 C1651.1,1543.1 1652.1,1539.6 1653.7,1535.8 C1655.3,1532.0 1657.4,1529.0 1660.3,1525.9 C1663.2,1522.8 1667.8,1518.4 1671.3,1517.1 C1674.8,1515.8 1679.0,1516.5 1681.2,1518.2 C1683.4,1519.9 1681.4,1524.4 1684.5,1527.0 C1687.6,1529.6 1695.1,1530.3 1699.9,1533.6 C1704.7,1536.9 1710.2,1542.0 1713.1,1546.8 C1716.0,1551.6 1717.5,1557.1 1717.5,1562.3 C1717.5,1567.5 1716.0,1574.0 1713.1,1577.7 C1710.2,1581.4 1705.8,1583.0 1699.9,1584.3 C1694.0,1585.6 1684.9,1585.8 1677.9,1585.4 C1670.9,1585.0 1662.9,1584.5 1658.1,1582.1 C1653.3,1579.7 1650.6,1576.6 1649.3,1571.1 Z" fill="url(#livL)" />
<path d="M1726.3,1549.0 C1726.8,1545.0 1726.3,1538.0 1728.5,1533.6 C1730.7,1529.2 1735.5,1525.0 1739.6,1522.6 C1743.6,1520.2 1748.4,1519.5 1752.8,1519.3 C1757.2,1519.1 1761.6,1520.2 1766.0,1521.5 C1770.4,1522.8 1776.1,1524.2 1779.2,1527.0 C1782.3,1529.8 1784.5,1534.3 1784.7,1538.0 C1784.9,1541.7 1781.6,1545.0 1780.3,1549.0 C1779.0,1553.0 1777.9,1557.9 1777.0,1562.3 C1776.1,1566.7 1777.0,1571.5 1774.8,1575.5 C1772.6,1579.5 1768.2,1584.1 1763.8,1586.5 C1759.4,1588.9 1752.8,1590.2 1748.4,1589.8 C1744.0,1589.4 1740.4,1587.4 1737.4,1584.3 C1734.5,1581.2 1732.7,1575.5 1730.7,1571.1 C1728.7,1566.7 1725.9,1561.6 1725.2,1557.9 C1724.5,1554.2 1725.8,1553.0 1726.3,1549.0 Z" fill="url(#livL2)" />
<ellipse cx="1524" cy="1531" rx="4" ry="2.5" fill="#fff" opacity="0.75"/>
<ellipse cx="1545" cy="1552" rx="2.5" ry="1.8" fill="#fff" opacity="0.75"/>
<ellipse cx="1606" cy="1546" rx="3" ry="2" fill="#fff" opacity="0.75"/>
<ellipse cx="1592" cy="1540" rx="2" ry="1.5" fill="#fff" opacity="0.75"/>
<ellipse cx="1676" cy="1541" rx="2.5" ry="2" fill="#fff" opacity="0.75"/>
<ellipse cx="1751" cy="1533" rx="2" ry="1.5" fill="#fff" opacity="0.75"/>
<path d="M1458.0,1632.0 C1459.0,1627.3 1462.2,1621.0 1466.0,1618.0 C1469.8,1615.0 1476.0,1613.7 1481.0,1614.0 C1486.0,1614.3 1492.2,1616.7 1496.0,1620.0 C1499.8,1623.3 1503.3,1629.0 1504.0,1634.0 C1504.7,1639.0 1503.0,1646.2 1500.0,1650.0 C1497.0,1653.8 1491.0,1656.3 1486.0,1657.0 C1481.0,1657.7 1474.3,1655.8 1470.0,1654.0 C1465.7,1652.2 1462.0,1649.7 1460.0,1646.0 C1458.0,1642.3 1457.0,1636.7 1458.0,1632.0 Z" fill="url(#fatW)" />
<path d="M1536.0,1640.0 C1535.8,1635.7 1538.7,1632.0 1542.0,1630.0 C1545.3,1628.0 1552.0,1629.0 1556.0,1628.0 C1560.0,1627.0 1562.3,1623.7 1566.0,1624.0 C1569.7,1624.3 1575.5,1626.5 1578.0,1630.0 C1580.5,1633.5 1581.7,1640.0 1581.0,1645.0 C1580.3,1650.0 1577.8,1656.9 1574.0,1660.0 C1570.2,1663.1 1563.2,1664.3 1558.0,1663.6 C1552.8,1662.9 1546.7,1659.9 1543.0,1656.0 C1539.3,1652.1 1536.2,1644.3 1536.0,1640.0 Z" fill="url(#fatW)" />
<path d="M1628.0,1665.0 C1627.7,1659.7 1628.0,1646.2 1630.0,1640.0 C1632.0,1633.8 1635.7,1630.7 1640.0,1628.0 C1644.3,1625.3 1651.3,1623.3 1656.0,1624.0 C1660.7,1624.7 1663.7,1629.3 1668.0,1632.0 C1672.3,1634.7 1678.3,1636.0 1682.0,1640.0 C1685.7,1644.0 1689.7,1650.7 1690.0,1656.0 C1690.3,1661.3 1688.0,1668.2 1684.0,1672.0 C1680.0,1675.8 1672.3,1678.2 1666.0,1679.0 C1659.7,1679.8 1651.7,1678.2 1646.0,1677.0 C1640.3,1675.8 1635.0,1674.0 1632.0,1672.0 C1629.0,1670.0 1628.3,1670.3 1628.0,1665.0 Z" fill="url(#fatW)" />
<path d="M1722.0,1632.0 C1723.3,1629.2 1729.3,1625.7 1734.0,1625.0 C1738.7,1624.3 1745.0,1628.5 1750.0,1628.0 C1755.0,1627.5 1759.0,1623.0 1764.0,1622.0 C1769.0,1621.0 1776.0,1620.0 1780.0,1622.0 C1784.0,1624.0 1787.0,1629.7 1788.0,1634.0 C1789.0,1638.3 1785.3,1643.3 1786.0,1648.0 C1786.7,1652.7 1792.7,1658.2 1792.0,1662.0 C1791.3,1665.8 1787.0,1670.0 1782.0,1671.0 C1777.0,1672.0 1767.7,1668.2 1762.0,1668.0 C1756.3,1667.8 1752.7,1670.7 1748.0,1670.0 C1743.3,1669.3 1735.7,1667.7 1734.0,1664.0 C1732.3,1660.3 1739.3,1651.7 1738.0,1648.0 C1736.7,1644.3 1728.7,1644.7 1726.0,1642.0 C1723.3,1639.3 1720.7,1634.8 1722.0,1632.0 Z" fill="url(#fatW)" />
<path d="M1452.1,1729.9 C1453.2,1726.8 1456.3,1720.3 1459.8,1716.6 C1463.3,1712.9 1468.2,1710.4 1473.0,1707.8 C1477.8,1705.2 1483.3,1701.9 1488.5,1701.2 C1493.7,1700.5 1499.5,1701.6 1503.9,1703.4 C1508.3,1705.2 1512.7,1708.5 1514.9,1712.2 C1517.1,1715.9 1517.5,1721.0 1517.1,1725.4 C1516.7,1729.8 1514.9,1734.7 1512.7,1738.7 C1510.5,1742.8 1507.6,1747.0 1503.9,1749.7 C1500.2,1752.5 1495.5,1754.5 1490.7,1755.2 C1485.9,1755.9 1479.6,1756.1 1475.2,1754.1 C1470.8,1752.1 1467.9,1746.2 1464.2,1743.1 C1460.5,1740.0 1455.2,1737.6 1453.2,1735.4 C1451.2,1733.2 1451.0,1733.0 1452.1,1729.9 Z" fill="url(#livM)" />
<path d="M1536.9,1737.6 C1537.1,1732.8 1536.9,1725.6 1538.0,1721.0 C1539.1,1716.4 1540.0,1712.6 1543.5,1710.0 C1547.0,1707.4 1553.4,1706.5 1558.9,1705.6 C1564.4,1704.7 1571.1,1703.8 1576.6,1704.5 C1582.1,1705.2 1588.7,1706.9 1592.0,1710.0 C1595.3,1713.1 1596.8,1718.4 1596.4,1723.2 C1596.0,1728.0 1593.1,1733.9 1589.8,1738.7 C1586.5,1743.5 1580.6,1748.6 1576.6,1751.9 C1572.5,1755.2 1569.9,1758.1 1565.5,1758.5 C1561.1,1758.9 1554.9,1755.6 1550.1,1754.1 C1545.3,1752.6 1539.1,1752.5 1536.9,1749.7 C1534.7,1747.0 1536.7,1742.4 1536.9,1737.6 Z" fill="url(#livM)" />
<path d="M1641.5,1738.7 C1641.1,1734.7 1642.0,1729.1 1644.8,1725.4 C1647.6,1721.7 1652.2,1719.3 1658.1,1716.6 C1664.0,1713.8 1673.9,1710.0 1680.1,1708.9 C1686.3,1707.8 1690.4,1708.3 1695.5,1710.0 C1700.6,1711.7 1707.8,1715.1 1710.9,1718.8 C1714.0,1722.5 1715.3,1727.7 1714.2,1732.1 C1713.1,1736.5 1706.7,1740.5 1704.3,1745.3 C1701.9,1750.1 1702.8,1756.7 1699.9,1760.7 C1697.0,1764.7 1691.5,1768.4 1686.7,1769.5 C1681.9,1770.6 1676.1,1768.8 1671.3,1767.3 C1666.5,1765.8 1662.1,1763.6 1658.1,1760.7 C1654.0,1757.8 1649.8,1753.4 1647.0,1749.7 C1644.2,1746.0 1641.9,1742.8 1641.5,1738.7 Z" fill="url(#livM)" />
<path d="M1726.3,1734.3 C1726.7,1729.9 1730.0,1724.7 1733.0,1721.0 C1736.0,1717.3 1740.0,1713.5 1744.0,1712.2 C1748.0,1710.9 1753.5,1711.8 1757.2,1713.3 C1760.9,1714.8 1762.3,1720.5 1766.0,1721.0 C1769.7,1721.5 1775.5,1716.6 1779.2,1716.6 C1782.9,1716.6 1785.4,1717.3 1788.0,1721.0 C1790.6,1724.7 1793.1,1733.5 1794.6,1738.7 C1796.1,1743.9 1798.6,1748.2 1796.8,1751.9 C1795.0,1755.6 1788.7,1758.9 1783.6,1760.7 C1778.5,1762.5 1771.1,1761.6 1766.0,1762.9 C1760.9,1764.2 1757.6,1768.0 1752.8,1768.4 C1748.0,1768.8 1741.8,1766.4 1737.4,1765.1 C1733.0,1763.8 1727.4,1763.6 1726.3,1760.7 C1725.2,1757.8 1730.7,1751.9 1730.7,1747.5 C1730.7,1743.1 1725.9,1738.7 1726.3,1734.3 Z" fill="url(#livM)" />
<ellipse cx="1686" cy="1748" rx="3" ry="2.5" fill="#e85a5a" opacity="0.6"/>
<ellipse cx="1590" cy="1722" rx="2" ry="1.5" fill="#e85a5a" opacity="0.6"/>
<ellipse cx="1785" cy="1737" rx="2.5" ry="1.5" fill="#e85a5a" opacity="0.6"/>
<path d="M1536.0,1822.0 C1537.2,1817.3 1540.3,1812.5 1544.0,1810.0 C1547.7,1807.5 1553.3,1807.0 1558.0,1807.0 C1562.7,1807.0 1568.3,1807.8 1572.0,1810.0 C1575.7,1812.2 1579.0,1816.3 1580.0,1820.0 C1581.0,1823.7 1579.0,1827.7 1578.0,1832.0 C1577.0,1836.3 1577.0,1842.7 1574.0,1846.0 C1571.0,1849.3 1565.0,1851.3 1560.0,1852.0 C1555.0,1852.7 1547.8,1852.3 1544.0,1850.0 C1540.2,1847.7 1538.3,1842.7 1537.0,1838.0 C1535.7,1833.3 1534.8,1826.7 1536.0,1822.0 Z" fill="url(#fatC)" />
<path d="M1588.0,1820.0 C1589.5,1816.2 1592.3,1812.7 1596.0,1811.0 C1599.7,1809.3 1606.0,1808.8 1610.0,1810.0 C1614.0,1811.2 1617.7,1814.3 1620.0,1818.0 C1622.3,1821.7 1624.0,1827.3 1624.0,1832.0 C1624.0,1836.7 1623.0,1842.8 1620.0,1846.0 C1617.0,1849.2 1610.7,1850.7 1606.0,1851.0 C1601.3,1851.3 1595.2,1850.8 1592.0,1848.0 C1588.8,1845.2 1587.7,1838.7 1587.0,1834.0 C1586.3,1829.3 1586.5,1823.8 1588.0,1820.0 Z" fill="url(#fatC)" />
<path d="M1665.0,1830.0 C1665.0,1824.7 1665.5,1817.9 1668.0,1814.0 C1670.5,1810.1 1675.3,1807.8 1680.0,1806.5 C1684.7,1805.2 1691.3,1805.1 1696.0,1806.0 C1700.7,1806.9 1705.2,1808.3 1708.0,1812.0 C1710.8,1815.7 1712.3,1822.5 1713.0,1828.0 C1713.7,1833.5 1714.2,1840.7 1712.0,1845.0 C1709.8,1849.3 1705.0,1852.5 1700.0,1854.0 C1695.0,1855.5 1687.3,1855.3 1682.0,1854.0 C1676.7,1852.7 1670.8,1850.0 1668.0,1846.0 C1665.2,1842.0 1665.0,1835.3 1665.0,1830.0 Z" fill="url(#fatC)" />
<path d="M1719.0,1818.0 C1720.7,1813.8 1723.8,1809.0 1728.0,1807.0 C1732.2,1805.0 1739.0,1805.2 1744.0,1806.0 C1749.0,1806.8 1754.8,1808.3 1758.0,1812.0 C1761.2,1815.7 1762.3,1822.7 1763.0,1828.0 C1763.7,1833.3 1764.2,1839.7 1762.0,1844.0 C1759.8,1848.3 1754.8,1852.3 1750.0,1854.0 C1745.2,1855.7 1738.0,1855.3 1733.0,1854.0 C1728.0,1852.7 1722.5,1849.7 1720.0,1846.0 C1717.5,1842.3 1718.2,1836.7 1718.0,1832.0 C1717.8,1827.3 1717.3,1822.2 1719.0,1818.0 Z" fill="url(#fatC)" />
<text x="1395.3" y="1614.0" font-size="29" font-weight="bold" text-anchor="start" fill="#000" font-family="'Liberation Sans', Arial, sans-serif" >F0</text>
<text x="1395.3" y="1788.5" font-size="29" font-weight="bold" text-anchor="start" fill="#000" font-family="'Liberation Sans', Arial, sans-serif" >F9</text>
<line x1="1436.0" y1="1547.3" x2="1436.0" y2="1659.0" stroke="#111" stroke-width="2" />
<line x1="1436.0" y1="1721.7" x2="1436.0" y2="1835.0" stroke="#111" stroke-width="2" />
<text x="1566.2" y="1909.2" font-size="29.5" font-weight="bold" text-anchor="middle" fill="#000" font-family="'Liberation Sans', Arial, sans-serif" >Con</text>
<text x="1723.5" y="1909.2" font-size="29.5" font-weight="bold" text-anchor="middle" fill="#000" font-family="'Liberation Sans', Arial, sans-serif" >HFD</text>
<rect x="1208" y="2121" width="687" height="305" fill="#fcfcfc"/>
<path d="M1288.0,2376.0 C1289.5,2371.3 1295.8,2376.0 1298.0,2380.0 C1300.2,2384.0 1301.3,2394.3 1301.0,2400.0 C1300.7,2405.7 1298.0,2412.7 1296.0,2414.0 C1294.0,2415.3 1290.3,2414.3 1289.0,2408.0 C1287.7,2401.7 1286.5,2380.7 1288.0,2376.0 Z" fill="#e2c0ae"/>
<path d="M1321.0,2390.0 C1320.3,2392.5 1318.0,2399.2 1317.0,2405.0 C1316.0,2410.8 1315.3,2421.7 1315.0,2425.0 " fill="none" stroke="#cfa27e" stroke-width="7" stroke-linecap="round"/>
<path d="M1322.1,2144.3 C1326.4,2144.7 1332.7,2147.9 1337.0,2152.9 C1341.3,2157.9 1344.7,2166.1 1347.9,2174.3 C1351.1,2182.5 1353.7,2195.4 1356.0,2202.0 C1358.3,2208.6 1360.5,2207.9 1362.0,2214.0 C1363.5,2220.1 1363.8,2227.4 1365.0,2238.6 C1366.2,2249.8 1367.5,2267.1 1369.3,2281.4 C1371.1,2295.7 1374.8,2311.8 1375.7,2324.3 C1376.6,2336.8 1376.4,2348.2 1374.6,2356.4 C1372.8,2364.6 1369.1,2369.3 1365.0,2373.6 C1360.9,2377.9 1356.8,2378.8 1350.0,2382.0 C1343.2,2385.2 1331.5,2392.2 1324.3,2392.9 C1317.1,2393.6 1312.8,2389.6 1307.1,2386.4 C1301.4,2383.2 1295.0,2378.6 1290.0,2373.6 C1285.0,2368.6 1280.1,2362.8 1277.1,2356.4 C1274.1,2350.0 1272.3,2343.9 1271.8,2335.0 C1271.3,2326.1 1273.6,2315.4 1273.9,2302.9 C1274.2,2290.4 1273.7,2272.2 1273.9,2260.0 C1274.1,2247.8 1274.1,2238.2 1275.0,2230.0 C1275.9,2221.8 1276.8,2217.1 1279.3,2210.7 C1281.8,2204.3 1286.4,2198.5 1290.0,2191.4 C1293.6,2184.3 1297.1,2174.7 1300.7,2167.9 C1304.3,2161.1 1307.8,2154.6 1311.4,2150.7 C1315.0,2146.8 1317.8,2143.9 1322.1,2144.3 Z" fill="url(#mouseG)"/>
<path d="M1262.0,2202.0 C1261.5,2199.7 1270.3,2194.3 1275.0,2192.0 C1279.7,2189.7 1287.0,2186.7 1290.0,2188.0 C1293.0,2189.3 1293.2,2196.2 1293.0,2200.0 C1292.8,2203.8 1291.5,2210.0 1289.0,2211.0 C1286.5,2212.0 1282.5,2207.5 1278.0,2206.0 C1273.5,2204.5 1262.5,2204.3 1262.0,2202.0 Z" fill="#c99f78"/>
<path d="M1330.0,2192.0 C1332.2,2189.5 1338.0,2187.2 1342.0,2189.0 C1346.0,2190.8 1353.0,2199.2 1354.0,2203.0 C1355.0,2206.8 1351.0,2210.2 1348.0,2212.0 C1345.0,2213.8 1339.2,2215.3 1336.0,2214.0 C1332.8,2212.7 1330.0,2207.7 1329.0,2204.0 C1328.0,2200.3 1327.8,2194.5 1330.0,2192.0 Z" fill="#c99f78"/>
<ellipse cx="1345.5" cy="2203" rx="6.0" ry="6.5" fill="#8f6c4e" opacity="0.55"/>
<path d="M1476.0,2350.0 C1479.3,2348.0 1492.8,2349.0 1500.0,2350.0 C1507.2,2351.0 1518.2,2354.0 1519.0,2356.0 C1519.8,2358.0 1511.5,2361.0 1505.0,2362.0 C1498.5,2363.0 1484.8,2364.0 1480.0,2362.0 C1475.2,2360.0 1472.7,2352.0 1476.0,2350.0 Z" fill="#e2c0ae"/>
<path d="M1380.0,2380.0 C1382.5,2375.8 1388.3,2371.3 1392.0,2371.0 C1395.7,2370.7 1402.3,2374.5 1402.0,2378.0 C1401.7,2381.5 1394.2,2389.0 1390.0,2392.0 C1385.8,2395.0 1378.7,2398.0 1377.0,2396.0 C1375.3,2394.0 1377.5,2384.2 1380.0,2380.0 Z" fill="#e2c0ae"/>
<path d="M1446.0,2380.0 C1448.0,2383.3 1453.7,2392.5 1458.0,2400.0 C1462.3,2407.5 1469.7,2420.8 1472.0,2425.0 " fill="none" stroke="#cfa27e" stroke-width="7" stroke-linecap="round"/>
<path d="M1431.4,2143.2 C1435.3,2145.2 1442.1,2153.1 1446.4,2159.3 C1450.7,2165.6 1453.9,2173.9 1457.1,2180.7 C1460.3,2187.5 1463.5,2191.8 1465.7,2200.0 C1467.9,2208.2 1468.6,2220.0 1470.0,2230.0 C1471.4,2240.0 1471.8,2247.8 1474.3,2260.0 C1476.8,2272.2 1482.7,2290.4 1485.0,2302.9 C1487.3,2315.4 1488.5,2326.1 1488.2,2335.0 C1487.9,2343.9 1485.9,2350.0 1482.9,2356.4 C1479.9,2362.8 1475.4,2369.5 1470.0,2373.6 C1464.6,2377.7 1455.7,2379.6 1450.7,2381.0 C1445.7,2382.4 1446.1,2382.5 1440.0,2382.0 C1433.9,2381.5 1421.5,2380.4 1414.3,2377.9 C1407.1,2375.4 1401.9,2372.4 1397.1,2367.0 C1392.3,2361.6 1387.7,2354.6 1385.4,2345.7 C1383.1,2336.8 1383.6,2326.1 1383.2,2313.6 C1382.8,2301.1 1383.0,2285.0 1383.2,2270.7 C1383.4,2256.4 1383.4,2239.7 1384.3,2227.9 C1385.2,2216.1 1386.5,2207.9 1388.6,2200.0 C1390.7,2192.1 1393.2,2187.5 1397.1,2180.7 C1401.0,2173.9 1407.8,2164.8 1412.1,2159.3 C1416.4,2153.8 1419.7,2150.2 1422.9,2147.5 C1426.1,2144.8 1427.5,2141.2 1431.4,2143.2 Z" fill="url(#mouseG)"/>
<path d="M1371.4,2202.0 C1371.7,2200.0 1378.1,2194.0 1382.0,2192.0 C1385.9,2190.0 1392.7,2188.0 1395.0,2190.0 C1397.3,2192.0 1396.8,2200.7 1396.0,2204.0 C1395.2,2207.3 1392.7,2210.0 1390.0,2210.0 C1387.3,2210.0 1383.1,2205.3 1380.0,2204.0 C1376.9,2202.7 1371.1,2204.0 1371.4,2202.0 Z" fill="#c99f78"/>
<path d="M1428.0,2186.0 C1430.5,2183.2 1437.5,2178.7 1442.0,2181.0 C1446.5,2183.3 1453.7,2195.5 1455.0,2200.0 C1456.3,2204.5 1453.2,2206.3 1450.0,2208.0 C1446.8,2209.7 1439.8,2211.7 1436.0,2210.0 C1432.2,2208.3 1428.3,2202.0 1427.0,2198.0 C1425.7,2194.0 1425.5,2188.8 1428.0,2186.0 Z" fill="#c99f78"/>
<ellipse cx="1444.5" cy="2195" rx="7.5" ry="7.800000000000001" fill="#8f6c4e" opacity="0.55"/>
<path d="M1578.0,2384.0 C1580.0,2380.0 1586.0,2375.0 1590.0,2374.0 C1594.0,2373.0 1601.7,2375.0 1602.0,2378.0 C1602.3,2381.0 1596.0,2388.7 1592.0,2392.0 C1588.0,2395.3 1580.3,2399.3 1578.0,2398.0 C1575.7,2396.7 1576.0,2388.0 1578.0,2384.0 Z" fill="#e2c0ae"/>
<path d="M1688.0,2360.0 C1690.8,2359.7 1700.3,2367.7 1705.0,2372.0 C1709.7,2376.3 1716.5,2383.7 1716.0,2386.0 C1715.5,2388.3 1706.7,2388.0 1702.0,2386.0 C1697.3,2384.0 1690.3,2378.3 1688.0,2374.0 C1685.7,2369.7 1685.2,2360.3 1688.0,2360.0 Z" fill="#e2c0ae"/>
<path d="M1650.0,2386.0 C1653.0,2389.2 1662.0,2398.5 1668.0,2405.0 C1674.0,2411.5 1683.0,2421.7 1686.0,2425.0 " fill="none" stroke="#cfa27e" stroke-width="7" stroke-linecap="round"/>
<path d="M1627.9,2130.4 C1631.8,2130.8 1637.6,2133.1 1642.9,2137.9 C1648.2,2142.7 1655.7,2153.6 1660.0,2159.3 C1664.3,2165.0 1665.8,2165.9 1668.6,2172.0 C1671.4,2178.1 1675.0,2188.2 1677.1,2195.7 C1679.2,2203.2 1680.5,2208.1 1681.4,2217.0 C1682.3,2225.9 1681.8,2238.6 1682.5,2249.3 C1683.2,2260.0 1684.5,2270.7 1685.7,2281.4 C1687.0,2292.1 1688.9,2302.9 1690.0,2313.6 C1691.1,2324.3 1692.4,2336.8 1692.1,2345.7 C1691.8,2354.6 1691.1,2361.3 1687.9,2367.0 C1684.7,2372.7 1678.3,2376.8 1672.9,2380.0 C1667.5,2383.2 1660.7,2385.0 1655.7,2386.4 C1650.7,2387.8 1647.9,2388.9 1642.9,2388.6 C1637.9,2388.2 1632.1,2386.8 1625.7,2384.3 C1619.3,2381.8 1611.1,2378.2 1604.3,2373.6 C1597.5,2368.9 1588.9,2364.6 1585.0,2356.4 C1581.1,2348.2 1581.0,2335.0 1580.7,2324.3 C1580.4,2313.6 1582.0,2302.8 1582.9,2292.1 C1583.8,2281.4 1585.8,2268.2 1586.1,2260.0 C1586.4,2251.8 1584.1,2249.0 1585.0,2242.9 C1585.9,2236.8 1590.0,2231.5 1591.4,2223.6 C1592.8,2215.7 1591.4,2204.3 1593.6,2195.7 C1595.8,2187.1 1601.4,2179.2 1604.3,2172.1 C1607.2,2165.0 1608.2,2159.0 1610.7,2152.9 C1613.2,2146.8 1616.4,2139.4 1619.3,2135.7 C1622.2,2131.9 1624.0,2130.0 1627.9,2130.4 Z" fill="url(#mouseG)"/>
<path d="M1606.0,2180.0 C1607.5,2177.0 1612.8,2172.3 1616.0,2172.0 C1619.2,2171.7 1623.3,2174.7 1625.0,2178.0 C1626.7,2181.3 1627.5,2189.0 1626.0,2192.0 C1624.5,2195.0 1619.2,2196.3 1616.0,2196.0 C1612.8,2195.7 1608.7,2192.7 1607.0,2190.0 C1605.3,2187.3 1604.5,2183.0 1606.0,2180.0 Z" fill="#c99f78"/>
<path d="M1667.0,2172.0 C1668.8,2169.5 1676.3,2168.0 1680.0,2171.0 C1683.7,2174.0 1689.3,2186.8 1689.0,2190.0 C1688.7,2193.2 1681.3,2190.7 1678.0,2190.0 C1674.7,2189.3 1670.8,2189.0 1669.0,2186.0 C1667.2,2183.0 1665.2,2174.5 1667.0,2172.0 Z" fill="#c99f78"/>
<ellipse cx="1618.5" cy="2183" rx="5.25" ry="6.5" fill="#8f6c4e" opacity="0.55"/>
<path d="M1798.0,2372.0 C1800.0,2371.0 1807.5,2375.7 1812.0,2380.0 C1816.5,2384.3 1825.0,2395.0 1825.0,2398.0 C1825.0,2401.0 1816.2,2400.0 1812.0,2398.0 C1807.8,2396.0 1802.3,2390.3 1800.0,2386.0 C1797.7,2381.7 1796.0,2373.0 1798.0,2372.0 Z" fill="#e2c0ae"/>
<path d="M1700.0,2362.0 C1701.0,2360.0 1713.7,2358.7 1718.0,2360.0 C1722.3,2361.3 1727.0,2368.0 1726.0,2370.0 C1725.0,2372.0 1716.3,2373.3 1712.0,2372.0 C1707.7,2370.7 1699.0,2364.0 1700.0,2362.0 Z" fill="#e2c0ae"/>
<path d="M1762.0,2388.0 C1761.7,2390.8 1760.7,2398.8 1760.0,2405.0 C1759.3,2411.2 1758.3,2421.7 1758.0,2425.0 " fill="none" stroke="#cfa27e" stroke-width="7" stroke-linecap="round"/>
<path d="M1756.4,2136.8 C1761.4,2136.1 1769.3,2142.3 1775.7,2148.6 C1782.1,2154.8 1790.0,2166.6 1795.0,2174.3 C1800.0,2182.0 1802.4,2189.7 1806.0,2195.0 C1809.6,2200.3 1814.0,2199.1 1816.4,2206.4 C1818.9,2213.7 1820.0,2226.1 1820.7,2238.6 C1821.4,2251.1 1820.3,2268.9 1820.7,2281.4 C1821.1,2293.9 1822.0,2304.7 1822.9,2313.6 C1823.8,2322.5 1826.7,2326.8 1826.0,2335.0 C1825.3,2343.2 1822.7,2355.3 1818.6,2362.8 C1814.5,2370.3 1807.8,2375.7 1801.4,2380.0 C1795.0,2384.3 1786.4,2386.8 1780.0,2388.6 C1773.6,2390.4 1768.6,2391.1 1762.9,2390.7 C1757.2,2390.3 1752.1,2389.6 1745.7,2386.4 C1739.3,2383.2 1730.4,2377.5 1724.3,2371.4 C1718.2,2365.3 1712.2,2357.8 1709.3,2350.0 C1706.4,2342.2 1706.0,2332.9 1707.1,2324.3 C1708.2,2315.7 1713.2,2309.3 1715.7,2298.6 C1718.2,2287.9 1721.0,2273.6 1722.1,2260.0 C1723.2,2246.4 1721.4,2227.1 1722.1,2217.1 C1722.8,2207.1 1723.9,2207.1 1726.4,2200.0 C1728.9,2192.9 1733.9,2182.2 1737.1,2174.3 C1740.3,2166.5 1742.5,2159.2 1745.7,2152.9 C1748.9,2146.7 1751.4,2137.5 1756.4,2136.8 Z" fill="url(#mouseG)"/>
<path d="M1737.0,2196.0 C1737.8,2192.3 1741.5,2187.3 1745.0,2186.0 C1748.5,2184.7 1755.2,2185.7 1758.0,2188.0 C1760.8,2190.3 1763.0,2196.5 1762.0,2200.0 C1761.0,2203.5 1755.7,2207.7 1752.0,2209.0 C1748.3,2210.3 1742.5,2210.2 1740.0,2208.0 C1737.5,2205.8 1736.2,2199.7 1737.0,2196.0 Z" fill="#c99f78"/>
<path d="M1798.0,2182.0 C1800.0,2179.3 1807.0,2175.7 1812.0,2178.0 C1817.0,2180.3 1827.7,2192.7 1828.0,2196.0 C1828.3,2199.3 1818.7,2198.3 1814.0,2198.0 C1809.3,2197.7 1802.7,2196.7 1800.0,2194.0 C1797.3,2191.3 1796.0,2184.7 1798.0,2182.0 Z" fill="#c99f78"/>
<ellipse cx="1751.5" cy="2197" rx="6.0" ry="6.5" fill="#8f6c4e" opacity="0.55"/>
<text x="1156.2" y="2288.3" font-size="27.5" font-weight="bold" text-anchor="start" fill="#000" font-family="'Liberation Sans', Arial, sans-serif" >F9</text>
<text x="1185.0" y="2290.0" font-size="27" font-weight="normal" text-anchor="start" fill="#111" font-family="'Liberation Sans', 'Noto Sans CJK SC', sans-serif" >（</text>
<text x="1236.8" y="2290.0" font-size="27" font-weight="normal" text-anchor="start" fill="#111" font-family="'Liberation Sans', 'Noto Sans CJK SC', sans-serif" >）</text>
<text x="0" y="0" font-size="27" fill="#222" font-family="'Liberation Sans', 'Noto Sans CJK SC', sans-serif" transform="translate(1209.4 2300.1) scale(1.6 2.2)">♂</text>
<text x="1388.1" y="2479.3" font-size="28.5" font-weight="bold" text-anchor="middle" fill="#000" font-family="'Liberation Sans', Arial, sans-serif" >Con</text>
<text x="1710.4" y="2479.3" font-size="28.5" font-weight="bold" text-anchor="middle" fill="#000" font-family="'Liberation Sans', Arial, sans-serif" >HFD</text>
</svg>
</body></html>
